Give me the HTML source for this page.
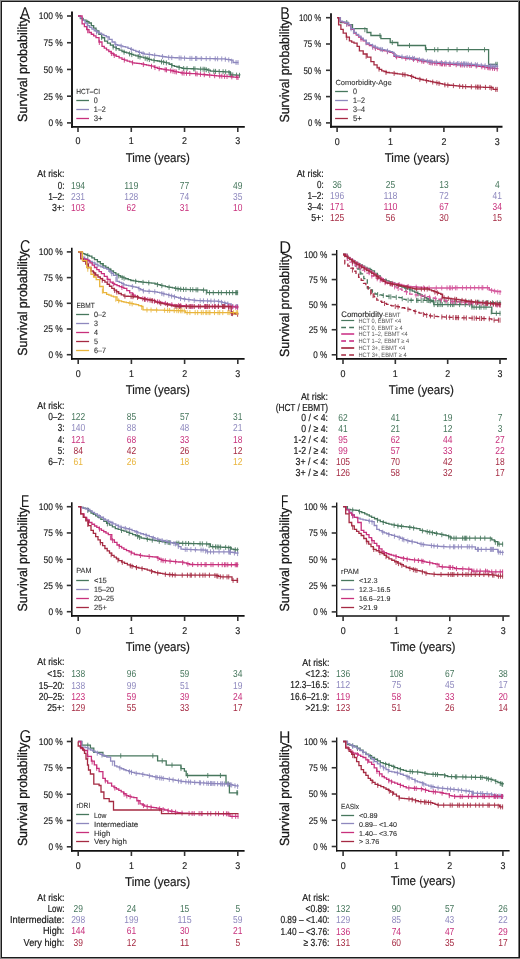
<!DOCTYPE html>
<html><head><meta charset="utf-8"><style>
html,body{margin:0;padding:0;background:#fff;}
body{width:520px;height:959px;overflow:hidden;position:relative;}
svg{position:absolute;left:0;top:0;will-change:transform;}
svg text{font-family:"Liberation Sans", sans-serif;text-rendering:geometricPrecision;}
.b{position:absolute;}
</style></head><body>
<svg width="520" height="959" viewBox="0 0 520 959">
<rect x="0" y="0" width="520" height="959" fill="#fff"/>
<line x1="72.00" y1="11.50" x2="72.00" y2="127.70" stroke="#111" stroke-width="1.90"/>
<line x1="71.05" y1="126.80" x2="244.80" y2="126.80" stroke="#111" stroke-width="1.80"/>
<line x1="67.00" y1="16.00" x2="72.00" y2="16.00" stroke="#333" stroke-width="1.60"/>
<text x="62.80" y="19.40" font-size="9.60" text-anchor="end" fill="#222" stroke="#222" stroke-width="0.15" textLength="24.09" lengthAdjust="spacingAndGlyphs">100 %</text>
<line x1="67.00" y1="42.73" x2="72.00" y2="42.73" stroke="#333" stroke-width="1.60"/>
<text x="62.80" y="46.12" font-size="9.60" text-anchor="end" fill="#222" stroke="#222" stroke-width="0.15" textLength="19.24" lengthAdjust="spacingAndGlyphs">75 %</text>
<line x1="67.00" y1="69.45" x2="72.00" y2="69.45" stroke="#333" stroke-width="1.60"/>
<text x="62.80" y="72.85" font-size="9.60" text-anchor="end" fill="#222" stroke="#222" stroke-width="0.15" textLength="19.24" lengthAdjust="spacingAndGlyphs">50 %</text>
<line x1="67.00" y1="96.18" x2="72.00" y2="96.18" stroke="#333" stroke-width="1.60"/>
<text x="62.80" y="99.58" font-size="9.60" text-anchor="end" fill="#222" stroke="#222" stroke-width="0.15" textLength="19.24" lengthAdjust="spacingAndGlyphs">25 %</text>
<line x1="67.00" y1="122.90" x2="72.00" y2="122.90" stroke="#333" stroke-width="1.60"/>
<text x="62.80" y="126.30" font-size="9.60" text-anchor="end" fill="#222" stroke="#222" stroke-width="0.15" textLength="14.39" lengthAdjust="spacingAndGlyphs">0 %</text>
<line x1="78.00" y1="126.80" x2="78.00" y2="132.00" stroke="#333" stroke-width="1.60"/>
<text x="78.00" y="144.30" font-size="9.80" text-anchor="middle" fill="#222" stroke="#222" stroke-width="0.15" textLength="4.95" lengthAdjust="spacingAndGlyphs">0</text>
<line x1="131.27" y1="126.80" x2="131.27" y2="132.00" stroke="#333" stroke-width="1.60"/>
<text x="131.27" y="144.30" font-size="9.80" text-anchor="middle" fill="#222" stroke="#222" stroke-width="0.15" textLength="4.95" lengthAdjust="spacingAndGlyphs">1</text>
<line x1="184.53" y1="126.80" x2="184.53" y2="132.00" stroke="#333" stroke-width="1.60"/>
<text x="184.53" y="144.30" font-size="9.80" text-anchor="middle" fill="#222" stroke="#222" stroke-width="0.15" textLength="4.95" lengthAdjust="spacingAndGlyphs">2</text>
<line x1="237.80" y1="126.80" x2="237.80" y2="132.00" stroke="#333" stroke-width="1.60"/>
<text x="237.80" y="144.30" font-size="9.80" text-anchor="middle" fill="#222" stroke="#222" stroke-width="0.15" textLength="4.95" lengthAdjust="spacingAndGlyphs">3</text>
<text x="125.70" y="162.30" font-size="12.80" text-anchor="start" fill="#1a1a1a" stroke="#1a1a1a" stroke-width="0.20" textLength="64.20" lengthAdjust="spacingAndGlyphs">Time (years)</text>
<text transform="translate(26.90,121.90) rotate(-90)" x="0" y="0" font-size="13.2" fill="#1a1a1a" stroke="#1a1a1a" stroke-width="0.3" textLength="104.90" lengthAdjust="spacingAndGlyphs">Survival probability</text>
<text transform="translate(19.97,18.60) scale(0.875,1)" x="0" y="0" font-size="17.10" fill="#1a1a1a">A</text>
<text x="76.30" y="93.80" font-size="7.40" text-anchor="start" fill="#333" stroke="#333" stroke-width="0.10" textLength="23.77" lengthAdjust="spacingAndGlyphs">HCT–CI</text>
<line x1="76.30" y1="100.50" x2="89.00" y2="100.50" stroke="#47775d" stroke-width="1.30"/>
<text x="93.70" y="103.30" font-size="8.00" text-anchor="start" fill="#333" stroke="#333" stroke-width="0.12" textLength="3.98" lengthAdjust="spacingAndGlyphs">0</text>
<line x1="76.30" y1="109.50" x2="89.00" y2="109.50" stroke="#8e88be" stroke-width="1.30"/>
<text x="93.70" y="112.20" font-size="8.00" text-anchor="start" fill="#333" stroke="#333" stroke-width="0.12" textLength="12.05" lengthAdjust="spacingAndGlyphs">1–2</text>
<line x1="76.30" y1="118.50" x2="89.00" y2="118.50" stroke="#c8307c" stroke-width="1.30"/>
<text x="93.70" y="121.00" font-size="8.00" text-anchor="start" fill="#333" stroke="#333" stroke-width="0.12" textLength="8.86" lengthAdjust="spacingAndGlyphs">3+</text>
<path d="M78.00,16.00 H80.40 V18.70 H83.27 V20.13 H86.13 V21.57 H89.00 V23.00 H91.33 V25.60 H93.67 V28.20 H96.00 V30.80 H98.87 V34.27 H101.73 V37.73 H104.60 V41.20 H107.50 V43.20 H110.40 V45.20 H113.30 V47.20 H116.20 V48.63 H119.10 V50.07 H122.00 V51.50 H124.30 V52.23 H126.60 V52.97 H128.90 V53.70 H131.20 V54.43 H133.50 V55.17 H135.80 V55.90 H138.38 V56.55 H140.95 V57.20 H143.53 V57.85 H146.10 V58.50 H148.70 V59.35 H151.30 V60.20 H154.30 V60.60 H157.30 V61.00 H159.58 V61.48 H161.85 V61.95 H164.12 V62.42 H166.40 V62.90 H169.15 V64.25 H171.90 V65.60 H174.43 V66.30 H176.95 V67.00 H179.47 V67.70 H182.00 V68.40 H184.28 V68.49 H186.56 V68.58 H188.84 V68.67 H191.12 V68.76 H193.40 V68.85 H195.68 V68.94 H197.96 V69.03 H200.24 V69.12 H202.52 V69.21 H204.80 V69.30 H207.55 V70.20 H210.30 V71.10 H212.59 V71.21 H214.88 V71.32 H217.16 V71.44 H219.45 V71.55 H221.74 V71.66 H224.03 V71.78 H226.31 V71.89 H228.60 V72.00 H230.40 V74.80 H232.80 V74.92 H235.20 V75.05 H237.60 V75.17 H240.00 V75.30" fill="none" stroke="#47775d" stroke-width="1.30"/>
<path d="M87.72,19.86V24.86M96.72,29.17V34.17M101.66,35.15V40.15M113.15,44.60V49.60M116.06,46.06V51.06M124.06,49.66V54.66M129.56,51.41V56.41M131.80,52.12V57.12M138.15,53.99V58.99M140.01,54.46V59.46M145.21,55.78V60.78M147.21,56.36V61.36M149.33,57.06V62.06M154.02,58.06V63.06M161.51,59.38V64.38M163.62,59.82V64.82M166.37,60.39V65.39M171.79,63.05V68.05M179.05,65.08V70.08M183.66,65.97V70.97M187.06,66.10V71.10M193.73,66.36V71.36M194.96,66.41V71.41M200.65,66.64V71.64M203.11,66.73V71.73M204.79,66.80V71.80M206.31,67.29V72.29M208.79,68.10V73.10M213.79,68.77V73.77M215.54,68.86V73.86M219.21,69.04V74.04M223.08,69.23V74.23M225.63,69.35V74.35M228.94,70.03V75.03M230.02,71.71V76.71M231.08,72.34V77.34M232.78,72.42V77.42M236.56,72.62V77.62M239.50,72.80V77.80" fill="none" stroke="#47775d" stroke-width="0.95" opacity="0.9"/>
<path d="M78.00,16.00 H80.40 V17.80 H82.70 V20.40 H85.00 V23.00 H87.30 V25.60 H89.60 V27.33 H91.90 V29.07 H94.20 V30.80 H96.62 V32.00 H99.04 V33.20 H101.46 V34.40 H103.88 V35.60 H106.30 V36.80 H109.20 V39.40 H112.10 V42.00 H115.00 V44.60 H117.60 V45.25 H120.20 V45.90 H122.80 V46.55 H125.40 V47.20 H128.00 V48.28 H130.60 V49.35 H133.20 V50.42 H135.80 V51.50 H138.67 V52.37 H141.53 V53.23 H144.40 V54.10 H147.20 V54.40 H150.00 V54.70 H152.29 V55.04 H154.57 V55.38 H156.86 V55.71 H159.15 V56.05 H161.44 V56.39 H163.73 V56.73 H166.01 V57.06 H168.30 V57.40 H170.58 V57.51 H172.85 V57.62 H175.12 V57.74 H177.40 V57.85 H179.68 V57.96 H181.95 V58.07 H184.22 V58.19 H186.50 V58.30 H188.78 V58.34 H191.06 V58.38 H193.34 V58.41 H195.62 V58.45 H197.91 V58.49 H200.19 V58.52 H202.47 V58.56 H204.75 V58.60 H207.03 V58.64 H209.31 V58.67 H211.59 V58.71 H213.88 V58.75 H216.16 V58.79 H218.44 V58.82 H220.72 V58.86 H223.00 V58.90 H225.47 V59.30 H227.93 V59.70 H230.40 V60.10 H233.10 V62.50 H235.80 V62.50 H238.50 V62.50" fill="none" stroke="#8e88be" stroke-width="1.30"/>
<path d="M87.63,23.35V28.35M96.46,29.42V34.42M107.98,35.81V40.81M115.87,42.32V47.32M121.21,43.65V48.65M131.37,47.17V52.17M139.50,50.12V55.12M143.08,51.20V56.20M149.25,52.12V57.12M154.69,52.89V57.89M162.45,54.04V59.04M168.71,54.92V59.92M171.77,55.07V60.07M179.19,55.44V60.44M180.98,55.53V60.53M184.54,55.70V60.70M190.00,55.86V60.86M191.85,55.89V60.89M195.56,55.95V60.95M196.73,55.97V60.97M201.28,56.04V61.04M206.21,56.12V61.12M210.02,56.19V61.19M215.24,56.27V61.27M217.60,56.31V61.31M221.74,56.38V61.38M225.32,56.78V61.78M228.77,57.34V62.34M231.60,58.66V63.66M236.07,60.00V65.00M238.00,60.00V65.00" fill="none" stroke="#8e88be" stroke-width="0.95" opacity="0.9"/>
<path d="M78.00,16.00 H82.10 V23.80 H84.40 V26.70 H86.70 V29.60 H89.00 V32.50 H91.33 V34.23 H93.67 V35.97 H96.00 V37.70 H99.00 V42.00 H102.00 V46.30 H104.26 V48.04 H106.52 V49.78 H108.78 V51.52 H111.04 V53.26 H113.30 V55.00 H116.20 V56.43 H119.10 V57.87 H122.00 V59.30 H124.58 V60.17 H127.15 V61.05 H129.73 V61.92 H132.30 V62.80 H134.60 V63.10 H136.90 V63.40 H139.20 V63.70 H141.62 V64.20 H144.04 V64.70 H146.46 V65.20 H148.88 V65.70 H151.30 V66.20 H154.30 V67.30 H157.30 V68.40 H159.50 V68.76 H161.70 V69.12 H163.90 V69.48 H166.10 V69.84 H168.30 V70.20 H170.84 V70.76 H173.38 V71.32 H175.92 V71.88 H178.46 V72.44 H181.00 V73.00 H183.45 V73.13 H185.90 V73.27 H188.35 V73.40 H190.80 V73.53 H193.25 V73.67 H195.70 V73.80 H197.99 V74.04 H200.27 V74.28 H202.56 V74.51 H204.85 V74.75 H207.14 V74.99 H209.43 V75.22 H211.71 V75.46 H214.00 V75.70 H216.43 V75.85 H218.87 V76.00 H221.30 V76.15 H223.73 V76.30 H226.17 V76.45 H228.60 V76.60 H231.07 V76.82 H233.55 V77.05 H236.03 V77.28 H238.50 V77.50" fill="none" stroke="#c8307c" stroke-width="1.30"/>
<path d="M87.63,28.27V33.27M99.33,39.98V44.98M111.42,51.06V56.06M114.25,52.97V57.97M124.31,57.58V62.58M132.60,60.34V65.34M143.32,62.05V67.05M151.51,63.78V68.78M155.01,65.06V70.06M159.15,66.20V71.20M165.15,67.18V72.18M166.50,67.40V72.40M170.76,68.24V73.24M172.99,68.73V73.73M174.86,69.15V74.15M176.33,69.47V74.47M182.19,70.56V75.56M184.01,70.66V75.66M186.50,70.80V75.80M189.77,70.98V75.98M195.69,71.30V76.30M197.08,71.44V76.44M200.44,71.79V76.79M204.27,72.19V77.19M209.71,72.76V77.76M214.67,73.24V78.24M219.70,73.55V78.55M221.83,73.68V78.68M224.58,73.85V78.85M227.03,74.00V79.00M231.81,74.39V79.39M236.80,74.85V79.85M238.00,75.00V80.00" fill="none" stroke="#c8307c" stroke-width="0.95" opacity="0.9"/>
<text x="64.40" y="176.90" font-size="10.20" text-anchor="end" fill="#1a1a1a" stroke="#1a1a1a" stroke-width="0.20" textLength="27.04" lengthAdjust="spacingAndGlyphs">At risk:</text>
<text x="64.40" y="188.50" font-size="10.20" text-anchor="end" fill="#1a1a1a" stroke="#1a1a1a" stroke-width="0.20" textLength="6.71" lengthAdjust="spacingAndGlyphs">0:</text>
<text x="78.00" y="188.50" font-size="10.20" text-anchor="middle" fill="#47775d" textLength="14.11" lengthAdjust="spacingAndGlyphs">194</text>
<text x="131.27" y="188.50" font-size="10.20" text-anchor="middle" fill="#47775d" textLength="14.11" lengthAdjust="spacingAndGlyphs">119</text>
<text x="184.53" y="188.50" font-size="10.20" text-anchor="middle" fill="#47775d" textLength="9.41" lengthAdjust="spacingAndGlyphs">77</text>
<text x="237.80" y="188.50" font-size="10.20" text-anchor="middle" fill="#47775d" textLength="9.41" lengthAdjust="spacingAndGlyphs">49</text>
<text x="64.40" y="199.65" font-size="10.20" text-anchor="end" fill="#1a1a1a" stroke="#1a1a1a" stroke-width="0.20" textLength="16.27" lengthAdjust="spacingAndGlyphs">1–2:</text>
<text x="78.00" y="199.65" font-size="10.20" text-anchor="middle" fill="#8e88be" textLength="14.11" lengthAdjust="spacingAndGlyphs">231</text>
<text x="131.27" y="199.65" font-size="10.20" text-anchor="middle" fill="#8e88be" textLength="14.11" lengthAdjust="spacingAndGlyphs">128</text>
<text x="184.53" y="199.65" font-size="10.20" text-anchor="middle" fill="#8e88be" textLength="9.41" lengthAdjust="spacingAndGlyphs">74</text>
<text x="237.80" y="199.65" font-size="10.20" text-anchor="middle" fill="#8e88be" textLength="9.41" lengthAdjust="spacingAndGlyphs">35</text>
<text x="64.40" y="210.80" font-size="10.20" text-anchor="end" fill="#1a1a1a" stroke="#1a1a1a" stroke-width="0.20" textLength="12.49" lengthAdjust="spacingAndGlyphs">3+:</text>
<text x="78.00" y="210.80" font-size="10.20" text-anchor="middle" fill="#c8307c" textLength="14.11" lengthAdjust="spacingAndGlyphs">103</text>
<text x="131.27" y="210.80" font-size="10.20" text-anchor="middle" fill="#c8307c" textLength="9.41" lengthAdjust="spacingAndGlyphs">62</text>
<text x="184.53" y="210.80" font-size="10.20" text-anchor="middle" fill="#c8307c" textLength="9.41" lengthAdjust="spacingAndGlyphs">31</text>
<text x="237.80" y="210.80" font-size="10.20" text-anchor="middle" fill="#c8307c" textLength="9.41" lengthAdjust="spacingAndGlyphs">10</text>
<line x1="331.00" y1="13.30" x2="331.00" y2="127.70" stroke="#111" stroke-width="1.80"/>
<line x1="330.10" y1="126.70" x2="502.50" y2="126.70" stroke="#111" stroke-width="2.00"/>
<line x1="326.00" y1="17.70" x2="331.00" y2="17.70" stroke="#333" stroke-width="1.60"/>
<text x="321.30" y="21.10" font-size="9.60" text-anchor="end" fill="#222" stroke="#222" stroke-width="0.15" textLength="22.40" lengthAdjust="spacingAndGlyphs">100 %</text>
<line x1="326.00" y1="44.00" x2="331.00" y2="44.00" stroke="#333" stroke-width="1.60"/>
<text x="321.30" y="47.40" font-size="9.60" text-anchor="end" fill="#222" stroke="#222" stroke-width="0.15" textLength="17.89" lengthAdjust="spacingAndGlyphs">75 %</text>
<line x1="326.00" y1="70.30" x2="331.00" y2="70.30" stroke="#333" stroke-width="1.60"/>
<text x="321.30" y="73.70" font-size="9.60" text-anchor="end" fill="#222" stroke="#222" stroke-width="0.15" textLength="17.89" lengthAdjust="spacingAndGlyphs">50 %</text>
<line x1="326.00" y1="96.60" x2="331.00" y2="96.60" stroke="#333" stroke-width="1.60"/>
<text x="321.30" y="100.00" font-size="9.60" text-anchor="end" fill="#222" stroke="#222" stroke-width="0.15" textLength="17.89" lengthAdjust="spacingAndGlyphs">25 %</text>
<line x1="326.00" y1="122.90" x2="331.00" y2="122.90" stroke="#333" stroke-width="1.60"/>
<text x="321.30" y="126.30" font-size="9.60" text-anchor="end" fill="#222" stroke="#222" stroke-width="0.15" textLength="13.38" lengthAdjust="spacingAndGlyphs">0 %</text>
<line x1="337.10" y1="126.70" x2="337.10" y2="131.90" stroke="#333" stroke-width="1.60"/>
<text x="337.10" y="144.50" font-size="9.80" text-anchor="middle" fill="#222" stroke="#222" stroke-width="0.15" textLength="4.95" lengthAdjust="spacingAndGlyphs">0</text>
<line x1="390.50" y1="126.70" x2="390.50" y2="131.90" stroke="#333" stroke-width="1.60"/>
<text x="390.50" y="144.50" font-size="9.80" text-anchor="middle" fill="#222" stroke="#222" stroke-width="0.15" textLength="4.95" lengthAdjust="spacingAndGlyphs">1</text>
<line x1="443.90" y1="126.70" x2="443.90" y2="131.90" stroke="#333" stroke-width="1.60"/>
<text x="443.90" y="144.50" font-size="9.80" text-anchor="middle" fill="#222" stroke="#222" stroke-width="0.15" textLength="4.95" lengthAdjust="spacingAndGlyphs">2</text>
<line x1="497.30" y1="126.70" x2="497.30" y2="131.90" stroke="#333" stroke-width="1.60"/>
<text x="497.30" y="144.50" font-size="9.80" text-anchor="middle" fill="#222" stroke="#222" stroke-width="0.15" textLength="4.95" lengthAdjust="spacingAndGlyphs">3</text>
<text x="384.70" y="162.30" font-size="12.80" text-anchor="start" fill="#1a1a1a" stroke="#1a1a1a" stroke-width="0.20" textLength="64.80" lengthAdjust="spacingAndGlyphs">Time (years)</text>
<text transform="translate(288.80,122.50) rotate(-90)" x="0" y="0" font-size="13.2" fill="#1a1a1a" stroke="#1a1a1a" stroke-width="0.3" textLength="103.20" lengthAdjust="spacingAndGlyphs">Survival probability</text>
<text transform="translate(280.23,18.60) scale(0.835,1)" x="0" y="0" font-size="17.10" fill="#1a1a1a">B</text>
<text x="335.40" y="85.10" font-size="7.40" text-anchor="start" fill="#333" stroke="#333" stroke-width="0.10" textLength="56.32" lengthAdjust="spacingAndGlyphs">Comorbidity-Age</text>
<line x1="335.10" y1="91.50" x2="347.90" y2="91.50" stroke="#47775d" stroke-width="1.30"/>
<text x="352.90" y="94.40" font-size="8.00" text-anchor="start" fill="#333" stroke="#333" stroke-width="0.12" textLength="3.98" lengthAdjust="spacingAndGlyphs">0</text>
<line x1="335.10" y1="100.50" x2="347.90" y2="100.50" stroke="#8e88be" stroke-width="1.30"/>
<text x="352.90" y="103.10" font-size="8.00" text-anchor="start" fill="#333" stroke="#333" stroke-width="0.12" textLength="12.05" lengthAdjust="spacingAndGlyphs">1–2</text>
<line x1="335.10" y1="109.50" x2="347.90" y2="109.50" stroke="#c8307c" stroke-width="1.30"/>
<text x="352.90" y="112.10" font-size="8.00" text-anchor="start" fill="#333" stroke="#333" stroke-width="0.12" textLength="12.05" lengthAdjust="spacingAndGlyphs">3–4</text>
<line x1="335.10" y1="118.50" x2="347.90" y2="118.50" stroke="#a52a42" stroke-width="1.30"/>
<text x="352.90" y="120.90" font-size="8.00" text-anchor="start" fill="#333" stroke="#333" stroke-width="0.12" textLength="8.86" lengthAdjust="spacingAndGlyphs">5+</text>
<path d="M337.10,17.70 H340.40 V17.80 H340.40 V22.50 H343.00 V22.50 H345.60 V22.50 H348.20 V22.50 H348.20 V24.70 H352.50 V28.60 H354.80 V28.60 H357.10 V28.60 H359.40 V28.60 H361.70 V28.60 H364.00 V28.60 H367.00 V32.50 H370.90 V35.50 H373.30 V35.50 H375.70 V35.50 H378.10 V35.50 H380.50 V35.50 H380.90 V38.60 H383.73 V38.60 H386.57 V38.60 H389.40 V38.60 H390.20 V42.50 H392.50 V42.50 H394.80 V42.50 H397.10 V42.50 H397.80 V45.50 H400.11 V45.50 H402.42 V45.50 H404.73 V45.50 H407.03 V45.50 H409.34 V45.50 H411.65 V45.50 H413.96 V45.50 H416.27 V45.50 H418.57 V45.50 H420.88 V45.50 H423.19 V45.50 H425.50 V45.50 H425.50 V49.70 H427.75 V49.70 H430.01 V49.70 H432.26 V49.70 H434.51 V49.70 H436.77 V49.70 H439.02 V49.70 H441.27 V49.70 H443.53 V49.70 H445.78 V49.70 H448.04 V49.70 H450.29 V49.70 H452.54 V49.70 H454.80 V49.70 H457.05 V49.70 H459.30 V49.70 H461.56 V49.70 H463.81 V49.70 H466.06 V49.70 H468.32 V49.70 H470.57 V49.70 H472.82 V49.70 H475.08 V49.70 H477.33 V49.70 H479.59 V49.70 H481.84 V49.70 H484.09 V49.70 H486.35 V49.70 H488.60 V49.70 H488.60 V64.30 H490.88 V64.30 H493.15 V64.30 H495.43 V64.30 H497.70 V64.30" fill="none" stroke="#47775d" stroke-width="1.30"/>
<path d="M346.74,20.00V25.00M364.86,27.22V32.22M379.99,33.00V38.00M392.29,40.00V45.00M409.50,43.00V48.00M426.29,47.20V52.20M434.64,47.20V52.20M437.86,47.20V52.20M448.23,47.20V52.20M457.06,47.20V52.20M468.42,47.20V52.20M484.52,47.20V52.20M495.80,61.80V66.80M497.20,61.80V66.80" fill="none" stroke="#47775d" stroke-width="0.95" opacity="0.9"/>
<path d="M337.10,17.70 H340.20 V21.70 H342.50 V22.45 H344.80 V23.20 H348.60 V25.50 H350.90 V29.40 H354.00 V33.20 H356.30 V35.15 H358.60 V37.10 H360.90 V39.00 H363.20 V40.90 H366.30 V44.00 H369.40 V45.55 H372.50 V47.10 H375.07 V48.13 H377.63 V49.17 H380.20 V50.20 H382.50 V50.55 H384.80 V50.90 H387.37 V51.67 H389.93 V52.43 H392.50 V53.20 H394.00 V56.30 H396.57 V56.80 H399.13 V57.30 H401.70 V57.80 H404.16 V58.12 H406.62 V58.44 H409.08 V58.76 H411.54 V59.08 H414.00 V59.40 H416.33 V59.93 H418.67 V60.47 H421.00 V61.00 H423.73 V61.48 H426.45 V61.95 H429.17 V62.42 H431.90 V62.90 H434.17 V63.12 H436.45 V63.35 H438.73 V63.57 H441.00 V63.80 H443.45 V63.95 H445.90 V64.10 H448.35 V64.25 H450.80 V64.40 H453.25 V64.55 H455.70 V64.70 H457.99 V64.81 H460.27 V64.92 H462.56 V65.04 H464.85 V65.15 H467.14 V65.26 H469.43 V65.38 H471.71 V65.49 H474.00 V65.60 H476.54 V65.98 H479.08 V66.36 H481.62 V66.74 H484.16 V67.12 H486.70 V67.50 H488.90 V67.78 H491.10 V68.06 H493.30 V68.34 H495.50 V68.62 H497.70 V68.90" fill="none" stroke="#c8307c" stroke-width="1.30"/>
<path d="M346.74,21.87V26.87M361.02,36.60V41.60M372.77,44.71V49.71M375.43,45.78V50.78M387.42,49.18V54.18M396.61,54.31V59.31M405.76,55.83V60.83M413.50,56.83V61.83M417.71,57.75V62.75M421.82,58.64V63.64M423.75,58.98V63.98M429.26,59.94V64.94M430.81,60.21V65.21M432.37,60.45V65.45M434.82,60.69V65.69M436.93,60.90V65.90M440.10,61.21V66.21M441.47,61.33V66.33M442.52,61.39V66.39M444.46,61.51V66.51M446.07,61.61V66.61M449.18,61.80V66.80M450.32,61.87V66.87M456.19,62.22V67.22M460.44,62.43V67.43M462.15,62.52V67.52M464.37,62.63V67.63M467.05,62.76V67.76M469.77,62.89V67.89M471.25,62.96V67.96M476.28,63.44V68.44M481.85,64.27V69.27M484.82,64.72V69.72M487.82,65.14V70.14M489.00,65.29V70.29M490.24,65.45V70.45M492.53,65.74V70.74M494.45,65.99V70.99M497.20,66.40V71.40" fill="none" stroke="#c8307c" stroke-width="0.95" opacity="0.9"/>
<path d="M337.10,17.70 H340.20 V21.20 H342.50 V21.90 H344.80 V22.60 H348.60 V24.80 H350.90 V28.60 H354.00 V32.40 H356.30 V34.30 H358.60 V36.20 H360.90 V38.20 H363.20 V40.20 H366.30 V43.00 H369.40 V44.60 H372.50 V46.20 H375.07 V47.20 H377.63 V48.20 H380.20 V49.20 H382.50 V49.70 H384.80 V50.20 H387.37 V50.93 H389.93 V51.67 H392.50 V52.40 H394.00 V55.30 H396.57 V55.80 H399.13 V56.30 H401.70 V56.80 H404.16 V57.12 H406.62 V57.44 H409.08 V57.76 H411.54 V58.08 H414.00 V58.40 H416.33 V58.93 H418.67 V59.47 H421.00 V60.00 H423.73 V60.50 H426.45 V61.00 H429.17 V61.50 H431.90 V62.00 H434.28 V62.15 H436.66 V62.30 H439.04 V62.45 H441.42 V62.60 H443.80 V62.75 H446.18 V62.90 H448.56 V63.05 H450.94 V63.20 H453.32 V63.35 H455.70 V63.50 H457.99 V63.62 H460.27 V63.75 H462.56 V63.88 H464.85 V64.00 H467.14 V64.12 H469.43 V64.25 H471.71 V64.38 H474.00 V64.50 H476.54 V64.80 H479.08 V65.10 H481.62 V65.40 H484.16 V65.70 H486.70 V66.00 H488.90 V66.10 H491.10 V66.20 H493.30 V66.30 H495.50 V66.40 H497.70 V66.50" fill="none" stroke="#8e88be" stroke-width="1.30"/>
<path d="M346.74,21.22V26.22M351.08,26.32V31.32M353.42,29.19V34.19M366.10,40.32V45.32M372.50,43.70V48.70M375.17,44.74V49.74M380.92,46.86V51.86M382.43,47.18V52.18M387.56,48.49V53.49M395.48,53.09V58.09M402.02,54.34V59.34M407.15,55.01V60.01M409.60,55.33V60.33M412.58,55.72V60.72M414.41,55.99V60.99M419.39,57.13V62.13M422.95,57.86V62.86M427.62,58.71V63.71M430.00,59.15V64.15M431.84,59.49V64.49M436.34,59.78V64.78M441.45,60.10V65.10M445.82,60.38V65.38M449.86,60.63V65.63M453.85,60.88V65.88M457.42,61.09V66.09M458.96,61.18V66.18M461.58,61.32V66.32M463.56,61.43V66.43M464.31,61.47V66.47M465.06,61.51V66.51M466.71,61.60V66.60M468.28,61.69V66.69M471.38,61.86V66.86M475.35,62.16V67.16M477.48,62.41V67.41M481.25,62.86V67.86M485.11,63.31V68.31M488.77,63.59V68.59M490.49,63.67V68.67M491.74,63.73V68.73M493.01,63.79V68.79M494.17,63.84V68.84M495.34,63.89V68.89M497.20,64.00V69.00" fill="none" stroke="#8e88be" stroke-width="0.95" opacity="0.9"/>
<path d="M337.10,17.70 H338.60 V24.80 H340.90 V29.40 H343.20 V33.20 H346.30 V37.10 H349.40 V40.90 H351.70 V42.05 H354.00 V43.20 H357.10 V46.30 H359.40 V50.90 H363.20 V54.00 H367.10 V57.10 H370.90 V61.70 H374.00 V64.80 H377.10 V67.80 H379.40 V69.35 H381.70 V70.90 H384.00 V71.70 H386.30 V72.50 H389.40 V72.85 H392.50 V73.20 H394.96 V73.52 H397.42 V73.84 H399.88 V74.16 H402.34 V74.48 H404.80 V74.80 H407.85 V75.55 H410.90 V76.30 H413.20 V77.35 H415.50 V78.40 H418.06 V78.96 H420.62 V79.52 H423.18 V80.08 H425.74 V80.64 H428.30 V81.20 H430.57 V81.65 H432.85 V82.10 H435.12 V82.55 H437.40 V83.00 H439.83 V83.60 H442.27 V84.20 H444.70 V84.80 H446.99 V85.02 H449.27 V85.25 H451.56 V85.47 H453.85 V85.70 H456.14 V85.92 H458.43 V86.15 H460.71 V86.38 H463.00 V86.60 H465.28 V86.67 H467.57 V86.75 H469.85 V86.82 H472.13 V86.90 H474.42 V86.97 H476.70 V87.05 H478.98 V87.12 H481.27 V87.20 H483.55 V87.28 H485.83 V87.35 H488.12 V87.42 H490.40 V87.50 H493.10 V89.40 H495.40 V89.40 H497.70 V89.40" fill="none" stroke="#a52a42" stroke-width="1.30"/>
<path d="M346.74,35.13V40.13M366.11,53.81V58.81M379.04,66.61V71.61M386.01,69.90V74.90M394.12,70.91V75.91M402.83,72.04V77.04M404.97,72.34V77.34M411.67,74.15V79.15M419.84,76.85V81.85M426.57,78.32V83.32M432.72,79.57V84.57M436.86,80.39V85.39M439.04,80.90V85.90M444.88,82.32V87.32M447.83,82.61V87.61M453.38,83.15V88.15M459.67,83.77V88.77M462.69,84.07V89.07M465.67,84.19V89.19M471.37,84.37V89.37M475.79,84.52V89.52M477.44,84.57V89.57M478.88,84.62V89.62M480.42,84.67V89.67M485.45,84.84V89.84M489.91,84.98V89.98M491.34,85.66V90.66M495.74,86.90V91.90M497.20,86.90V91.90" fill="none" stroke="#a52a42" stroke-width="0.95" opacity="0.9"/>
<text x="323.70" y="177.30" font-size="10.20" text-anchor="end" fill="#1a1a1a" stroke="#1a1a1a" stroke-width="0.20" textLength="27.04" lengthAdjust="spacingAndGlyphs">At risk:</text>
<text x="323.70" y="188.30" font-size="10.20" text-anchor="end" fill="#1a1a1a" stroke="#1a1a1a" stroke-width="0.20" textLength="6.71" lengthAdjust="spacingAndGlyphs">0:</text>
<text x="337.10" y="188.30" font-size="10.20" text-anchor="middle" fill="#47775d" textLength="9.41" lengthAdjust="spacingAndGlyphs">36</text>
<text x="390.50" y="188.30" font-size="10.20" text-anchor="middle" fill="#47775d" textLength="9.41" lengthAdjust="spacingAndGlyphs">25</text>
<text x="443.90" y="188.30" font-size="10.20" text-anchor="middle" fill="#47775d" textLength="9.41" lengthAdjust="spacingAndGlyphs">13</text>
<text x="497.30" y="188.30" font-size="10.20" text-anchor="middle" fill="#47775d" textLength="4.70" lengthAdjust="spacingAndGlyphs">4</text>
<text x="323.70" y="199.35" font-size="10.20" text-anchor="end" fill="#1a1a1a" stroke="#1a1a1a" stroke-width="0.20" textLength="16.27" lengthAdjust="spacingAndGlyphs">1–2:</text>
<text x="337.10" y="199.35" font-size="10.20" text-anchor="middle" fill="#8e88be" textLength="14.11" lengthAdjust="spacingAndGlyphs">196</text>
<text x="390.50" y="199.35" font-size="10.20" text-anchor="middle" fill="#8e88be" textLength="14.11" lengthAdjust="spacingAndGlyphs">118</text>
<text x="443.90" y="199.35" font-size="10.20" text-anchor="middle" fill="#8e88be" textLength="9.41" lengthAdjust="spacingAndGlyphs">72</text>
<text x="497.30" y="199.35" font-size="10.20" text-anchor="middle" fill="#8e88be" textLength="9.41" lengthAdjust="spacingAndGlyphs">41</text>
<text x="323.70" y="210.40" font-size="10.20" text-anchor="end" fill="#1a1a1a" stroke="#1a1a1a" stroke-width="0.20" textLength="16.27" lengthAdjust="spacingAndGlyphs">3–4:</text>
<text x="337.10" y="210.40" font-size="10.20" text-anchor="middle" fill="#c8307c" textLength="14.11" lengthAdjust="spacingAndGlyphs">171</text>
<text x="390.50" y="210.40" font-size="10.20" text-anchor="middle" fill="#c8307c" textLength="14.11" lengthAdjust="spacingAndGlyphs">110</text>
<text x="443.90" y="210.40" font-size="10.20" text-anchor="middle" fill="#c8307c" textLength="9.41" lengthAdjust="spacingAndGlyphs">67</text>
<text x="497.30" y="210.40" font-size="10.20" text-anchor="middle" fill="#c8307c" textLength="9.41" lengthAdjust="spacingAndGlyphs">34</text>
<text x="323.70" y="221.45" font-size="10.20" text-anchor="end" fill="#1a1a1a" stroke="#1a1a1a" stroke-width="0.20" textLength="12.49" lengthAdjust="spacingAndGlyphs">5+:</text>
<text x="337.10" y="221.45" font-size="10.20" text-anchor="middle" fill="#a52a42" textLength="14.11" lengthAdjust="spacingAndGlyphs">125</text>
<text x="390.50" y="221.45" font-size="10.20" text-anchor="middle" fill="#a52a42" textLength="9.41" lengthAdjust="spacingAndGlyphs">56</text>
<text x="443.90" y="221.45" font-size="10.20" text-anchor="middle" fill="#a52a42" textLength="9.41" lengthAdjust="spacingAndGlyphs">30</text>
<text x="497.30" y="221.45" font-size="10.20" text-anchor="middle" fill="#a52a42" textLength="9.41" lengthAdjust="spacingAndGlyphs">15</text>
<line x1="71.80" y1="247.80" x2="71.80" y2="359.65" stroke="#111" stroke-width="1.60"/>
<line x1="71.00" y1="358.80" x2="244.60" y2="358.80" stroke="#111" stroke-width="1.70"/>
<line x1="66.80" y1="251.90" x2="71.80" y2="251.90" stroke="#333" stroke-width="1.60"/>
<text x="62.80" y="255.30" font-size="9.60" text-anchor="end" fill="#222" stroke="#222" stroke-width="0.15" textLength="24.09" lengthAdjust="spacingAndGlyphs">100 %</text>
<line x1="66.80" y1="277.60" x2="71.80" y2="277.60" stroke="#333" stroke-width="1.60"/>
<text x="62.80" y="281.00" font-size="9.60" text-anchor="end" fill="#222" stroke="#222" stroke-width="0.15" textLength="19.24" lengthAdjust="spacingAndGlyphs">75 %</text>
<line x1="66.80" y1="303.30" x2="71.80" y2="303.30" stroke="#333" stroke-width="1.60"/>
<text x="62.80" y="306.70" font-size="9.60" text-anchor="end" fill="#222" stroke="#222" stroke-width="0.15" textLength="19.24" lengthAdjust="spacingAndGlyphs">50 %</text>
<line x1="66.80" y1="329.00" x2="71.80" y2="329.00" stroke="#333" stroke-width="1.60"/>
<text x="62.80" y="332.40" font-size="9.60" text-anchor="end" fill="#222" stroke="#222" stroke-width="0.15" textLength="19.24" lengthAdjust="spacingAndGlyphs">25 %</text>
<line x1="66.80" y1="354.70" x2="71.80" y2="354.70" stroke="#333" stroke-width="1.60"/>
<text x="62.80" y="358.10" font-size="9.60" text-anchor="end" fill="#222" stroke="#222" stroke-width="0.15" textLength="14.39" lengthAdjust="spacingAndGlyphs">0 %</text>
<line x1="78.20" y1="358.80" x2="78.20" y2="364.00" stroke="#333" stroke-width="1.60"/>
<text x="78.20" y="376.50" font-size="9.80" text-anchor="middle" fill="#222" stroke="#222" stroke-width="0.15" textLength="4.95" lengthAdjust="spacingAndGlyphs">0</text>
<line x1="131.40" y1="358.80" x2="131.40" y2="364.00" stroke="#333" stroke-width="1.60"/>
<text x="131.40" y="376.50" font-size="9.80" text-anchor="middle" fill="#222" stroke="#222" stroke-width="0.15" textLength="4.95" lengthAdjust="spacingAndGlyphs">1</text>
<line x1="184.60" y1="358.80" x2="184.60" y2="364.00" stroke="#333" stroke-width="1.60"/>
<text x="184.60" y="376.50" font-size="9.80" text-anchor="middle" fill="#222" stroke="#222" stroke-width="0.15" textLength="4.95" lengthAdjust="spacingAndGlyphs">2</text>
<line x1="237.80" y1="358.80" x2="237.80" y2="364.00" stroke="#333" stroke-width="1.60"/>
<text x="237.80" y="376.50" font-size="9.80" text-anchor="middle" fill="#222" stroke="#222" stroke-width="0.15" textLength="4.95" lengthAdjust="spacingAndGlyphs">3</text>
<text x="125.70" y="394.10" font-size="12.80" text-anchor="start" fill="#1a1a1a" stroke="#1a1a1a" stroke-width="0.20" textLength="64.20" lengthAdjust="spacingAndGlyphs">Time (years)</text>
<text transform="translate(26.90,355.80) rotate(-90)" x="0" y="0" font-size="13.2" fill="#1a1a1a" stroke="#1a1a1a" stroke-width="0.3" textLength="104.30" lengthAdjust="spacingAndGlyphs">Survival probability</text>
<text transform="translate(20.08,252.20) scale(0.840,1)" x="0" y="0" font-size="17.10" fill="#1a1a1a">C</text>
<text x="76.50" y="308.30" font-size="7.40" text-anchor="start" fill="#333" stroke="#333" stroke-width="0.10" textLength="18.21" lengthAdjust="spacingAndGlyphs">EBMT</text>
<line x1="76.10" y1="314.50" x2="89.10" y2="314.50" stroke="#47775d" stroke-width="1.30"/>
<text x="94.00" y="317.30" font-size="7.70" text-anchor="start" fill="#333" stroke="#333" stroke-width="0.12" textLength="12.05" lengthAdjust="spacingAndGlyphs">0–2</text>
<line x1="76.10" y1="323.50" x2="89.10" y2="323.50" stroke="#8e88be" stroke-width="1.30"/>
<text x="94.00" y="326.40" font-size="7.70" text-anchor="start" fill="#333" stroke="#333" stroke-width="0.12" textLength="3.98" lengthAdjust="spacingAndGlyphs">3</text>
<line x1="76.10" y1="332.50" x2="89.10" y2="332.50" stroke="#c8307c" stroke-width="1.30"/>
<text x="94.00" y="335.10" font-size="7.70" text-anchor="start" fill="#333" stroke="#333" stroke-width="0.12" textLength="3.98" lengthAdjust="spacingAndGlyphs">4</text>
<line x1="76.10" y1="341.50" x2="89.10" y2="341.50" stroke="#a52a42" stroke-width="1.30"/>
<text x="94.00" y="344.10" font-size="7.70" text-anchor="start" fill="#333" stroke="#333" stroke-width="0.12" textLength="3.98" lengthAdjust="spacingAndGlyphs">5</text>
<line x1="76.10" y1="350.50" x2="89.10" y2="350.50" stroke="#e9b53c" stroke-width="1.30"/>
<text x="94.00" y="353.00" font-size="7.70" text-anchor="start" fill="#333" stroke="#333" stroke-width="0.12" textLength="12.05" lengthAdjust="spacingAndGlyphs">6–7</text>
<path d="M78.20,251.90 H80.42 V252.76 H82.64 V253.62 H84.86 V254.48 H87.08 V255.34 H89.30 V256.20 H91.90 V257.95 H94.50 V259.70 H97.40 V261.73 H100.30 V263.77 H103.20 V265.80 H105.78 V267.52 H108.35 V269.25 H110.92 V270.98 H113.50 V272.70 H115.83 V274.13 H118.17 V275.57 H120.50 V277.00 H123.08 V277.88 H125.65 V278.75 H128.23 V279.62 H130.80 V280.50 H133.40 V280.93 H136.00 V281.35 H138.60 V281.77 H141.20 V282.20 H143.80 V282.43 H146.40 V282.65 H149.00 V282.88 H151.60 V283.10 H155.00 V284.00 H157.60 V284.65 H160.20 V285.30 H162.80 V285.95 H165.40 V286.60 H167.70 V287.03 H170.00 V287.47 H172.30 V287.90 H174.60 V288.33 H176.90 V288.77 H179.20 V289.20 H181.41 V289.28 H183.62 V289.36 H185.83 V289.45 H188.04 V289.53 H190.25 V289.61 H192.45 V289.69 H194.66 V289.77 H196.87 V289.85 H199.08 V289.94 H201.29 V290.02 H203.50 V290.10 H206.90 V292.70 H209.13 V292.70 H211.36 V292.70 H213.59 V292.70 H215.81 V292.70 H218.04 V292.70 H220.27 V292.70 H222.50 V292.70 H224.73 V292.70 H226.96 V292.70 H229.19 V292.70 H231.41 V292.70 H233.64 V292.70 H235.87 V292.70 H238.10 V292.70" fill="none" stroke="#47775d" stroke-width="1.30"/>
<path d="M87.79,253.12V258.12M102.79,263.01V268.01M109.96,267.83V272.83M118.79,273.45V278.45M122.11,275.05V280.05M124.08,275.72V280.72M135.68,278.80V283.80M143.00,279.86V284.86M148.78,280.36V285.36M157.42,282.10V287.10M161.82,283.20V288.20M169.09,284.80V289.80M175.65,286.03V291.03M178.06,286.49V291.49M180.68,286.75V291.75M183.50,286.86V291.86M185.95,286.95V291.95M190.36,287.11V292.11M192.81,287.20V292.20M196.10,287.33V292.33M197.76,287.39V292.39M203.57,287.65V292.65M206.30,289.74V294.74M209.52,290.20V295.20M213.30,290.20V295.20M218.55,290.20V295.20M221.37,290.20V295.20M226.45,290.20V295.20M229.51,290.20V295.20M232.66,290.20V295.20M235.72,290.20V295.20M236.56,290.20V295.20M237.60,290.20V295.20" fill="none" stroke="#47775d" stroke-width="0.95" opacity="0.9"/>
<path d="M78.20,251.90 H82.40 V257.10 H84.70 V258.53 H87.00 V259.97 H89.30 V261.40 H92.20 V262.87 H95.10 V264.33 H98.00 V265.80 H100.87 V266.93 H103.73 V268.07 H106.60 V269.20 H108.90 V271.23 H111.20 V273.27 H113.50 V275.30 H117.00 V281.30 H119.30 V282.47 H121.60 V283.63 H123.90 V284.80 H126.32 V285.32 H128.74 V285.84 H131.16 V286.36 H133.58 V286.88 H136.00 V287.40 H138.33 V288.57 H140.67 V289.73 H143.00 V290.90 H145.40 V291.08 H147.80 V291.26 H150.20 V291.44 H152.60 V291.62 H155.00 V291.80 H157.30 V292.38 H159.60 V292.97 H161.90 V293.55 H164.20 V294.13 H166.50 V294.72 H168.80 V295.30 H171.24 V295.98 H173.68 V296.66 H176.12 V297.34 H178.56 V298.02 H181.00 V298.70 H183.30 V299.00 H185.60 V299.30 H187.90 V299.60 H190.20 V299.90 H192.50 V300.20 H194.80 V300.50 H197.05 V300.58 H199.30 V300.66 H201.55 V300.74 H203.80 V300.82 H206.05 V300.90 H208.30 V300.98 H210.55 V301.06 H212.80 V301.14 H215.05 V301.22 H217.30 V301.30 H219.90 V301.95 H222.50 V302.60 H225.10 V303.25 H227.70 V303.90 H231.20 V306.50 H233.50 V306.50 H235.80 V306.50 H238.10 V306.50" fill="none" stroke="#8e88be" stroke-width="1.30"/>
<path d="M87.79,257.96V262.96M94.26,261.41V266.41M97.11,262.85V267.85M111.73,271.24V276.24M115.87,276.87V281.87M123.16,281.93V286.93M132.38,284.12V289.12M139.11,286.45V291.45M143.40,288.43V293.43M149.10,288.86V293.86M154.78,289.28V294.28M161.86,291.04V296.04M163.82,291.54V296.54M168.85,292.81V297.81M171.63,293.59V298.59M174.54,294.40V299.40M180.50,296.06V301.06M184.61,296.67V301.67M188.92,297.23V302.23M194.22,297.92V302.92M200.18,298.19V303.19M203.44,298.31V303.31M207.51,298.45V303.45M210.94,298.57V303.57M214.34,298.69V303.69M218.54,299.11V304.11M221.51,299.85V304.85M224.80,300.68V305.68M227.79,301.46V306.46M232.80,304.00V309.00M236.62,304.00V309.00M237.60,304.00V309.00" fill="none" stroke="#8e88be" stroke-width="0.95" opacity="0.9"/>
<path d="M78.20,251.90 H82.40 V258.80 H85.00 V259.70 H87.60 V260.60 H89.90 V262.90 H92.20 V265.20 H94.50 V267.50 H96.80 V269.53 H99.10 V271.57 H101.40 V273.60 H104.30 V276.47 H107.20 V279.33 H110.10 V282.20 H112.40 V283.37 H114.70 V284.53 H117.00 V285.70 H119.30 V286.57 H121.60 V287.43 H123.90 V288.30 H126.80 V290.60 H129.70 V292.90 H132.60 V295.20 H135.20 V296.50 H137.80 V297.80 H140.67 V298.37 H143.53 V298.93 H146.40 V299.50 H149.27 V300.10 H152.13 V300.70 H155.00 V301.30 H157.47 V301.80 H159.94 V302.30 H162.41 V302.80 H164.89 V303.30 H167.36 V303.80 H169.83 V304.30 H172.30 V304.80 H174.77 V305.04 H177.24 V305.29 H179.71 V305.53 H182.19 V305.77 H184.66 V306.01 H187.13 V306.26 H189.60 V306.50 H191.81 V306.50 H194.02 V306.50 H196.23 V306.50 H198.44 V306.50 H200.66 V306.50 H202.87 V306.50 H205.08 V306.50 H207.29 V306.50 H209.50 V306.50 H211.71 V306.50 H213.92 V306.50 H216.13 V306.50 H218.34 V306.50 H220.56 V306.50 H222.77 V306.50 H224.98 V306.50 H227.19 V306.50 H229.40 V306.50 H232.30 V306.80 H235.20 V307.10 H238.10 V307.40" fill="none" stroke="#c8307c" stroke-width="1.30"/>
<path d="M87.79,258.29V263.29M107.92,277.54V282.54M113.39,281.37V286.37M121.93,285.06V290.06M133.55,293.17V298.17M142.76,296.28V301.28M145.35,296.79V301.79M147.74,297.28V302.28M152.60,298.30V303.30M154.48,298.69V303.69M157.56,299.32V304.32M159.35,299.68V304.68M165.35,300.89V305.89M171.82,302.20V307.20M178.70,302.93V307.93M180.72,303.13V308.13M186.07,303.65V308.65M190.91,304.00V309.00M192.69,304.00V309.00M198.54,304.00V309.00M204.63,304.00V309.00M206.66,304.00V309.00M212.37,304.00V309.00M215.18,304.00V309.00M218.37,304.00V309.00M223.88,304.00V309.00M228.50,304.00V309.00M230.01,304.06V309.06M232.71,304.34V309.34M235.73,304.65V309.65M237.60,304.90V309.90" fill="none" stroke="#c8307c" stroke-width="0.95" opacity="0.9"/>
<path d="M78.20,251.90 H80.70 V258.80 H83.25 V261.40 H85.80 V264.00 H88.40 V267.50 H91.00 V271.00 H93.33 V273.00 H95.67 V275.00 H98.00 V277.00 H100.30 V278.73 H102.60 V280.47 H104.90 V282.20 H107.20 V284.23 H109.50 V286.27 H111.80 V288.30 H114.10 V290.03 H116.40 V291.77 H118.70 V293.50 H121.30 V294.80 H123.90 V296.10 H126.32 V296.26 H128.74 V296.42 H131.16 V296.58 H133.58 V296.74 H136.00 V296.90 H138.60 V297.80 H141.20 V298.70 H143.80 V299.12 H146.40 V299.55 H149.00 V299.97 H151.60 V300.40 H155.00 V302.20 H157.31 V302.68 H159.62 V303.16 H161.93 V303.63 H164.24 V304.11 H166.56 V304.59 H168.87 V305.07 H171.18 V305.54 H173.49 V306.02 H175.80 V306.50 H178.06 V306.50 H180.31 V306.50 H182.57 V306.50 H184.83 V306.50 H187.08 V306.50 H189.34 V306.50 H191.60 V306.50 H193.85 V306.50 H196.11 V306.50 H198.37 V306.50 H200.62 V306.50 H202.88 V306.50 H205.13 V306.50 H207.39 V306.50 H209.65 V306.50 H211.90 V306.50 H214.16 V306.50 H216.42 V306.50 H218.67 V306.50 H220.93 V306.50 H223.19 V306.50 H225.44 V306.50 H227.70 V306.50 H231.20 V313.50 H233.50 V313.77 H235.80 V314.03 H238.10 V314.30" fill="none" stroke="#a52a42" stroke-width="1.30"/>
<path d="M87.79,264.18V269.18M94.49,271.49V276.49M102.27,277.72V282.72M114.60,287.91V292.91M116.84,289.60V294.60M124.93,293.67V298.67M131.10,294.08V299.08M132.91,294.20V299.20M137.55,294.94V299.94M144.50,296.74V301.74M150.08,297.65V302.65M151.93,298.08V303.08M160.72,300.88V305.88M167.47,302.28V307.28M175.08,303.85V308.85M176.84,304.00V309.00M179.57,304.00V309.00M180.88,304.00V309.00M186.60,304.00V309.00M189.18,304.00V309.00M190.91,304.00V309.00M194.25,304.00V309.00M200.20,304.00V309.00M205.44,304.00V309.00M207.66,304.00V309.00M209.30,304.00V309.00M214.75,304.00V309.00M218.35,304.00V309.00M222.50,304.00V309.00M223.72,304.00V309.00M224.80,304.00V309.00M228.74,306.08V311.08M231.42,311.03V316.03M232.52,311.15V316.15M237.60,311.80V316.80" fill="none" stroke="#a52a42" stroke-width="0.95" opacity="0.9"/>
<path d="M78.20,251.90 H82.40 V260.60 H86.70 V267.50 H91.00 V274.40 H93.60 V277.00 H96.20 V279.60 H99.70 V286.50 H103.20 V292.60 H106.60 V294.30 H108.90 V295.17 H111.20 V296.03 H113.50 V296.90 H117.00 V300.40 H119.30 V300.97 H121.60 V301.53 H123.90 V302.10 H126.32 V302.62 H128.74 V303.14 H131.16 V303.66 H133.58 V304.18 H136.00 V304.70 H138.60 V305.55 H141.20 V306.40 H143.00 V309.90 H145.40 V309.92 H147.80 V309.94 H150.20 V309.96 H152.60 V309.98 H155.00 V310.00 H157.26 V310.07 H159.52 V310.14 H161.78 V310.21 H164.05 V310.28 H166.31 V310.35 H168.57 V310.42 H170.83 V310.48 H173.09 V310.55 H175.35 V310.62 H177.62 V310.69 H179.88 V310.76 H182.14 V310.83 H184.40 V310.90 H185.30 V312.60 H187.60 V312.60 H189.89 V312.60 H192.19 V312.60 H194.48 V312.60 H196.78 V312.60 H199.07 V312.60 H201.37 V312.60 H203.67 V312.60 H205.96 V312.60 H208.26 V312.60 H210.55 V312.60 H212.85 V312.60 H215.14 V312.60 H217.44 V312.60 H219.73 V312.60 H222.03 V312.60 H224.33 V312.60 H226.62 V312.60 H228.92 V312.60 H231.21 V312.60 H233.51 V312.60 H235.80 V312.60 H238.10 V312.60" fill="none" stroke="#e9b53c" stroke-width="1.30"/>
<path d="M87.79,266.76V271.76M102.38,288.67V293.67M115.78,296.68V301.68M118.70,298.32V303.32M129.86,300.88V305.88M132.15,301.37V306.37M141.72,304.91V309.91M146.97,307.43V312.43M151.05,307.47V312.47M156.61,307.55V312.55M164.61,307.79V312.79M167.63,307.89V312.89M169.65,307.95V312.95M174.23,308.09V313.09M176.84,308.17V313.17M178.61,308.22V313.22M180.67,308.29V313.29M182.03,308.33V313.33M184.28,308.40V313.40M187.13,310.10V315.10M189.90,310.10V315.10M195.16,310.10V315.10M197.70,310.10V315.10M201.32,310.10V315.10M203.17,310.10V315.10M205.87,310.10V315.10M206.86,310.10V315.10M209.02,310.10V315.10M209.98,310.10V315.10M214.49,310.10V315.10M218.00,310.10V315.10M219.73,310.10V315.10M222.79,310.10V315.10M227.91,310.10V315.10M229.17,310.10V315.10M233.60,310.10V315.10M236.25,310.10V315.10M237.60,310.10V315.10" fill="none" stroke="#e9b53c" stroke-width="0.95" opacity="0.9"/>
<text x="64.40" y="408.80" font-size="10.20" text-anchor="end" fill="#1a1a1a" stroke="#1a1a1a" stroke-width="0.20" textLength="27.04" lengthAdjust="spacingAndGlyphs">At risk:</text>
<text x="64.40" y="420.40" font-size="10.20" text-anchor="end" fill="#1a1a1a" stroke="#1a1a1a" stroke-width="0.20" textLength="16.27" lengthAdjust="spacingAndGlyphs">0–2:</text>
<text x="78.20" y="420.40" font-size="10.20" text-anchor="middle" fill="#47775d" textLength="14.11" lengthAdjust="spacingAndGlyphs">122</text>
<text x="131.40" y="420.40" font-size="10.20" text-anchor="middle" fill="#47775d" textLength="9.41" lengthAdjust="spacingAndGlyphs">85</text>
<text x="184.60" y="420.40" font-size="10.20" text-anchor="middle" fill="#47775d" textLength="9.41" lengthAdjust="spacingAndGlyphs">57</text>
<text x="237.80" y="420.40" font-size="10.20" text-anchor="middle" fill="#47775d" textLength="9.41" lengthAdjust="spacingAndGlyphs">31</text>
<text x="64.40" y="431.45" font-size="10.20" text-anchor="end" fill="#1a1a1a" stroke="#1a1a1a" stroke-width="0.20" textLength="6.71" lengthAdjust="spacingAndGlyphs">3:</text>
<text x="78.20" y="431.45" font-size="10.20" text-anchor="middle" fill="#8e88be" textLength="14.11" lengthAdjust="spacingAndGlyphs">140</text>
<text x="131.40" y="431.45" font-size="10.20" text-anchor="middle" fill="#8e88be" textLength="9.41" lengthAdjust="spacingAndGlyphs">88</text>
<text x="184.60" y="431.45" font-size="10.20" text-anchor="middle" fill="#8e88be" textLength="9.41" lengthAdjust="spacingAndGlyphs">48</text>
<text x="237.80" y="431.45" font-size="10.20" text-anchor="middle" fill="#8e88be" textLength="9.41" lengthAdjust="spacingAndGlyphs">21</text>
<text x="64.40" y="442.50" font-size="10.20" text-anchor="end" fill="#1a1a1a" stroke="#1a1a1a" stroke-width="0.20" textLength="6.71" lengthAdjust="spacingAndGlyphs">4:</text>
<text x="78.20" y="442.50" font-size="10.20" text-anchor="middle" fill="#c8307c" textLength="14.11" lengthAdjust="spacingAndGlyphs">121</text>
<text x="131.40" y="442.50" font-size="10.20" text-anchor="middle" fill="#c8307c" textLength="9.41" lengthAdjust="spacingAndGlyphs">68</text>
<text x="184.60" y="442.50" font-size="10.20" text-anchor="middle" fill="#c8307c" textLength="9.41" lengthAdjust="spacingAndGlyphs">33</text>
<text x="237.80" y="442.50" font-size="10.20" text-anchor="middle" fill="#c8307c" textLength="9.41" lengthAdjust="spacingAndGlyphs">18</text>
<text x="64.40" y="453.55" font-size="10.20" text-anchor="end" fill="#1a1a1a" stroke="#1a1a1a" stroke-width="0.20" textLength="6.71" lengthAdjust="spacingAndGlyphs">5:</text>
<text x="78.20" y="453.55" font-size="10.20" text-anchor="middle" fill="#a52a42" textLength="9.41" lengthAdjust="spacingAndGlyphs">84</text>
<text x="131.40" y="453.55" font-size="10.20" text-anchor="middle" fill="#a52a42" textLength="9.41" lengthAdjust="spacingAndGlyphs">42</text>
<text x="184.60" y="453.55" font-size="10.20" text-anchor="middle" fill="#a52a42" textLength="9.41" lengthAdjust="spacingAndGlyphs">26</text>
<text x="237.80" y="453.55" font-size="10.20" text-anchor="middle" fill="#a52a42" textLength="9.41" lengthAdjust="spacingAndGlyphs">12</text>
<text x="64.40" y="464.60" font-size="10.20" text-anchor="end" fill="#1a1a1a" stroke="#1a1a1a" stroke-width="0.20" textLength="16.27" lengthAdjust="spacingAndGlyphs">6–7:</text>
<text x="78.20" y="464.60" font-size="10.20" text-anchor="middle" fill="#e9b53c" textLength="9.41" lengthAdjust="spacingAndGlyphs">61</text>
<text x="131.40" y="464.60" font-size="10.20" text-anchor="middle" fill="#e9b53c" textLength="9.41" lengthAdjust="spacingAndGlyphs">26</text>
<text x="184.60" y="464.60" font-size="10.20" text-anchor="middle" fill="#e9b53c" textLength="9.41" lengthAdjust="spacingAndGlyphs">18</text>
<text x="237.80" y="464.60" font-size="10.20" text-anchor="middle" fill="#e9b53c" textLength="9.41" lengthAdjust="spacingAndGlyphs">12</text>
<line x1="336.70" y1="250.10" x2="336.70" y2="359.65" stroke="#111" stroke-width="1.40"/>
<line x1="336.00" y1="358.80" x2="506.90" y2="358.80" stroke="#111" stroke-width="1.70"/>
<line x1="331.70" y1="254.50" x2="336.70" y2="254.50" stroke="#333" stroke-width="1.60"/>
<text x="327.30" y="257.90" font-size="9.60" text-anchor="end" fill="#222" stroke="#222" stroke-width="0.15" textLength="23.37" lengthAdjust="spacingAndGlyphs">100 %</text>
<line x1="331.70" y1="279.57" x2="336.70" y2="279.57" stroke="#333" stroke-width="1.60"/>
<text x="327.30" y="282.97" font-size="9.60" text-anchor="end" fill="#222" stroke="#222" stroke-width="0.15" textLength="18.66" lengthAdjust="spacingAndGlyphs">75 %</text>
<line x1="331.70" y1="304.65" x2="336.70" y2="304.65" stroke="#333" stroke-width="1.60"/>
<text x="327.30" y="308.05" font-size="9.60" text-anchor="end" fill="#222" stroke="#222" stroke-width="0.15" textLength="18.66" lengthAdjust="spacingAndGlyphs">50 %</text>
<line x1="331.70" y1="329.73" x2="336.70" y2="329.73" stroke="#333" stroke-width="1.60"/>
<text x="327.30" y="333.12" font-size="9.60" text-anchor="end" fill="#222" stroke="#222" stroke-width="0.15" textLength="18.66" lengthAdjust="spacingAndGlyphs">25 %</text>
<line x1="331.70" y1="354.80" x2="336.70" y2="354.80" stroke="#333" stroke-width="1.60"/>
<text x="327.30" y="358.20" font-size="9.60" text-anchor="end" fill="#222" stroke="#222" stroke-width="0.15" textLength="13.96" lengthAdjust="spacingAndGlyphs">0 %</text>
<line x1="343.00" y1="358.80" x2="343.00" y2="364.00" stroke="#333" stroke-width="1.60"/>
<text x="343.00" y="376.60" font-size="9.80" text-anchor="middle" fill="#222" stroke="#222" stroke-width="0.15" textLength="4.95" lengthAdjust="spacingAndGlyphs">0</text>
<line x1="395.33" y1="358.80" x2="395.33" y2="364.00" stroke="#333" stroke-width="1.60"/>
<text x="395.33" y="376.60" font-size="9.80" text-anchor="middle" fill="#222" stroke="#222" stroke-width="0.15" textLength="4.95" lengthAdjust="spacingAndGlyphs">1</text>
<line x1="447.67" y1="358.80" x2="447.67" y2="364.00" stroke="#333" stroke-width="1.60"/>
<text x="447.67" y="376.60" font-size="9.80" text-anchor="middle" fill="#222" stroke="#222" stroke-width="0.15" textLength="4.95" lengthAdjust="spacingAndGlyphs">2</text>
<line x1="500.00" y1="358.80" x2="500.00" y2="364.00" stroke="#333" stroke-width="1.60"/>
<text x="500.00" y="376.60" font-size="9.80" text-anchor="middle" fill="#222" stroke="#222" stroke-width="0.15" textLength="4.95" lengthAdjust="spacingAndGlyphs">3</text>
<text x="388.80" y="393.80" font-size="12.80" text-anchor="start" fill="#1a1a1a" stroke="#1a1a1a" stroke-width="0.20" textLength="65.10" lengthAdjust="spacingAndGlyphs">Time (years)</text>
<text transform="translate(288.80,356.90) rotate(-90)" x="0" y="0" font-size="13.2" fill="#1a1a1a" stroke="#1a1a1a" stroke-width="0.3" textLength="104.00" lengthAdjust="spacingAndGlyphs">Survival probability</text>
<text transform="translate(279.15,252.50) scale(0.960,1)" x="0" y="0" font-size="17.10" fill="#1a1a1a">D</text>
<text x="341.50" y="316.50" font-size="7.40" text-anchor="start" fill="#333" stroke="#333" stroke-width="0.10"></text>
<line x1="341.20" y1="320.50" x2="354.20" y2="320.50" stroke="#47775d" stroke-width="1.20"/>
<text x="358.50" y="322.70" font-size="6.30" text-anchor="start" fill="#555" textLength="42.72" lengthAdjust="spacingAndGlyphs">HCT 0, EBMT &lt;4</text>
<line x1="341.20" y1="327.50" x2="354.20" y2="327.50" stroke="#47775d" stroke-width="1.30" stroke-dasharray="4.8,3.2"/>
<text x="358.50" y="329.70" font-size="6.30" text-anchor="start" fill="#555" textLength="44.12" lengthAdjust="spacingAndGlyphs">HCT 0, EBMT ≥ 4</text>
<line x1="341.20" y1="334.00" x2="354.20" y2="334.00" stroke="#d4579c" stroke-width="1.90"/>
<text x="358.50" y="336.20" font-size="6.30" text-anchor="start" fill="#555" textLength="49.22" lengthAdjust="spacingAndGlyphs">HCT 1–2, EBMT &lt;4</text>
<line x1="341.20" y1="341.00" x2="354.20" y2="341.00" stroke="#d4579c" stroke-width="1.90" stroke-dasharray="4.8,3.2"/>
<text x="358.50" y="343.20" font-size="6.30" text-anchor="start" fill="#555" textLength="50.62" lengthAdjust="spacingAndGlyphs">HCT 1–2, EBMT ≥ 4</text>
<line x1="341.20" y1="348.00" x2="354.20" y2="348.00" stroke="#a52a42" stroke-width="1.70"/>
<text x="358.50" y="350.10" font-size="6.30" text-anchor="start" fill="#555" textLength="46.66" lengthAdjust="spacingAndGlyphs">HCT 3+, EBMT &lt;4</text>
<line x1="341.20" y1="355.00" x2="354.20" y2="355.00" stroke="#a52a42" stroke-width="1.70" stroke-dasharray="4.8,3.2"/>
<text x="358.50" y="357.00" font-size="6.30" text-anchor="start" fill="#555" textLength="48.05" lengthAdjust="spacingAndGlyphs">HCT 3+, EBMT ≥ 4</text>
<path d="M343.00,254.50 H347.40 V257.80 H350.00 V259.30 H352.60 V260.80 H355.20 V262.30 H357.80 V263.80 H360.10 V264.97 H362.40 V266.13 H364.70 V267.30 H367.00 V268.47 H369.30 V269.63 H371.60 V270.80 H374.50 V273.40 H377.40 V276.00 H380.30 V278.60 H383.20 V279.73 H386.10 V280.87 H389.00 V282.00 H391.57 V283.07 H394.15 V284.15 H396.73 V285.23 H399.30 V286.30 H401.90 V287.18 H404.50 V288.05 H407.10 V288.93 H409.70 V289.80 H412.27 V291.10 H414.85 V292.40 H417.43 V293.70 H420.00 V295.00 H422.30 V296.32 H424.60 V297.63 H426.90 V298.95 H429.20 V300.27 H431.50 V301.58 H433.80 V302.90 H433.80 V304.60 H436.07 V304.60 H438.35 V304.60 H440.62 V304.60 H442.90 V304.60 H445.18 V304.60 H447.45 V304.60 H449.73 V304.60 H452.00 V304.60 H454.27 V304.60 H456.55 V304.60 H458.82 V304.60 H461.10 V304.60 H463.38 V304.60 H465.65 V304.60 H467.93 V304.60 H470.20 V304.60 H472.00 V307.20 H474.46 V307.20 H476.91 V307.20 H479.37 V307.20 H481.83 V307.20 H484.29 V307.20 H486.74 V307.20 H489.20 V307.20 H491.80 V313.30 H494.70 V313.30 H497.60 V313.30 H500.50 V313.30" fill="none" stroke="#47775d" stroke-width="1.30"/>
<path d="M352.45,258.21V263.21M370.64,267.81V272.81M377.97,274.01V279.01M385.86,278.27V283.27M394.85,281.94V286.94M405.68,285.95V290.95M410.00,287.45V292.45M418.04,291.51V296.51M424.57,295.12V300.12M430.25,298.37V303.37M434.12,302.10V307.10M437.51,302.10V307.10M438.96,302.10V307.10M440.87,302.10V307.10M442.39,302.10V307.10M447.95,302.10V307.10M450.47,302.10V307.10M452.42,302.10V307.10M453.89,302.10V307.10M459.59,302.10V307.10M465.23,302.10V307.10M469.63,302.10V307.10M471.95,304.62V309.62M474.03,304.70V309.70M476.34,304.70V309.70M479.43,304.70V309.70M481.02,304.70V309.70M483.96,304.70V309.70M486.01,304.70V309.70M491.24,309.48V314.48M496.36,310.80V315.80M500.00,310.80V315.80" fill="none" stroke="#47775d" stroke-width="0.95" opacity="0.9"/>
<path d="M343.00,254.50 H345.60 V256.47 H348.20 V258.43 H350.80 V260.40 H353.13 V263.27 H355.47 V266.13 H357.80 V269.00 H360.80 V273.80 H363.80 V278.60 H367.30 V288.00 H369.87 V290.00 H372.43 V292.00 H375.00 V294.00 H377.33 V294.45 H379.67 V294.90 H382.00 V295.35 H384.33 V295.80 H386.67 V296.25 H389.00 V296.70 H391.57 V296.93 H394.15 V297.15 H396.73 V297.38 H399.30 V297.60 H401.60 V298.47 H403.90 V299.33 H406.20 V300.20 H408.51 V300.23 H410.82 V300.27 H413.13 V300.30 H415.44 V300.33 H417.76 V300.37 H420.07 V300.40 H422.38 V300.43 H424.69 V300.47 H427.00 V300.50 H429.26 V300.58 H431.53 V300.66 H433.79 V300.74 H436.05 V300.82 H438.32 V300.89 H440.58 V300.97 H442.84 V301.05 H445.11 V301.13 H447.37 V301.21 H449.63 V301.29 H451.89 V301.37 H454.16 V301.45 H456.42 V301.53 H458.68 V301.61 H460.95 V301.68 H463.21 V301.76 H465.47 V301.84 H467.74 V301.92 H470.00 V302.00 H472.35 V302.08 H474.69 V302.15 H477.04 V302.23 H479.38 V302.31 H481.73 V302.38 H484.08 V302.46 H486.42 V302.54 H488.77 V302.62 H491.12 V302.69 H493.46 V302.77 H495.81 V302.85 H498.15 V302.92 H500.50 V303.00" fill="none" stroke="#47775d" stroke-width="1.30" stroke-dasharray="4.5,2.5"/>
<path d="M352.45,259.93V264.93M360.02,270.06V275.06M377.65,292.01V297.01M383.29,293.10V298.10M389.02,294.20V299.20M390.80,294.36V299.36M396.26,294.83V299.83M402.25,296.21V301.21M408.10,297.73V302.73M411.17,297.77V302.77M416.54,297.85V302.85M417.90,297.87V302.87M421.16,297.92V302.92M423.08,297.94V302.94M427.15,298.01V303.01M428.64,298.06V303.06M429.99,298.10V303.10M433.20,298.22V303.22M435.86,298.31V303.31M440.72,298.48V303.48M445.06,298.63V303.63M450.58,298.82V303.82M455.35,298.99V303.99M460.30,299.16V304.16M465.96,299.36V304.36M468.88,299.46V304.46M471.43,299.55V304.55M477.24,299.74V304.74M478.81,299.79V304.79M483.12,299.93V304.93M486.95,300.06V305.06M487.96,300.09V305.09M492.55,300.24V305.24M497.29,300.39V305.39M500.00,300.50V305.50" fill="none" stroke="#47775d" stroke-width="0.95" opacity="0.9"/>
<path d="M343.00,254.50 H345.26 V256.02 H347.52 V257.54 H349.78 V259.06 H352.04 V260.58 H354.30 V262.10 H356.77 V263.59 H359.24 V265.07 H361.71 V266.56 H364.19 V268.04 H366.66 V269.53 H369.13 V271.01 H371.60 V272.50 H373.92 V274.08 H376.23 V275.67 H378.55 V277.25 H380.87 V278.83 H383.18 V280.42 H385.50 V282.00 H387.80 V282.43 H390.10 V282.87 H392.40 V283.30 H394.70 V283.73 H397.00 V284.17 H399.30 V284.60 H401.60 V285.17 H403.90 V285.73 H406.20 V286.30 H408.51 V286.49 H410.82 V286.68 H413.13 V286.87 H415.44 V287.06 H417.76 V287.24 H420.07 V287.43 H422.38 V287.62 H424.69 V287.81 H427.00 V288.00 H429.24 V287.99 H431.48 V287.98 H433.72 V287.97 H435.96 V287.96 H438.20 V287.94 H440.44 V287.93 H442.69 V287.92 H444.93 V287.91 H447.17 V287.90 H449.41 V287.89 H451.65 V287.88 H453.89 V287.87 H456.13 V287.86 H458.37 V287.84 H460.61 V287.83 H462.85 V287.82 H465.09 V287.81 H467.33 V287.80 H469.57 V287.79 H471.81 V287.78 H474.06 V287.77 H476.30 V287.76 H478.54 V287.74 H480.78 V287.73 H483.02 V287.72 H485.26 V287.71 H487.50 V287.70 H489.20 V289.90 H491.50 V290.47 H493.80 V291.03 H496.10 V291.60 H500.50 V292.50" fill="none" stroke="#d4579c" stroke-width="1.50"/>
<path d="M352.45,258.36V263.36M368.83,268.33V273.33M381.93,277.06V282.06M385.38,279.42V284.42M392.71,280.86V285.86M399.23,282.09V287.09M408.23,283.97V288.97M416.19,284.62V289.62M423.73,285.23V290.23M429.08,285.49V290.49M436.28,285.45V290.45M441.74,285.43V290.43M447.04,285.40V290.40M449.43,285.39V290.39M450.63,285.38V290.38M452.40,285.37V290.37M455.43,285.36V290.36M456.99,285.35V290.35M462.54,285.32V290.32M466.42,285.30V290.30M470.57,285.28V290.28M474.61,285.26V290.26M478.81,285.24V290.24M482.00,285.23V290.23M482.84,285.22V290.22M487.40,285.20V290.20M491.61,287.99V292.99M494.64,288.74V293.74M497.76,289.44V294.44M500.00,290.00V295.00" fill="none" stroke="#d4579c" stroke-width="0.95" opacity="0.9"/>
<path d="M343.00,254.50 H347.40 V260.40 H350.00 V262.12 H352.60 V263.85 H355.20 V265.57 H357.80 V267.30 H360.10 V268.75 H362.40 V270.20 H364.70 V271.65 H367.00 V273.10 H369.30 V274.55 H371.60 V276.00 H373.92 V277.15 H376.23 V278.30 H378.55 V279.45 H380.87 V280.60 H383.18 V281.75 H385.50 V282.90 H387.80 V283.92 H390.10 V284.93 H392.40 V285.95 H394.70 V286.97 H397.00 V287.98 H399.30 V289.00 H401.90 V290.27 H404.50 V291.55 H407.10 V292.83 H409.70 V294.10 H412.17 V294.47 H414.64 V294.84 H417.11 V295.21 H419.59 V295.59 H422.06 V295.96 H424.53 V296.33 H427.00 V296.70 H429.38 V297.26 H431.75 V297.82 H434.12 V298.39 H436.50 V298.95 H438.88 V299.51 H441.25 V300.07 H443.62 V300.64 H446.00 V301.20 H448.36 V301.35 H450.73 V301.51 H453.09 V301.66 H455.45 V301.82 H457.82 V301.97 H460.18 V302.13 H462.55 V302.28 H464.91 V302.44 H467.27 V302.59 H469.64 V302.75 H472.00 V302.90 H474.46 V303.01 H476.91 V303.13 H479.37 V303.24 H481.83 V303.36 H484.29 V303.47 H486.74 V303.59 H489.20 V303.70 H491.46 V304.06 H493.72 V304.42 H495.98 V304.78 H498.24 V305.14 H500.50 V305.50" fill="none" stroke="#d4579c" stroke-width="1.30" stroke-dasharray="4.5,2.5"/>
<path d="M352.45,261.25V266.25M356.81,264.15V269.15M371.81,273.61V278.61M377.23,276.30V281.30M380.16,277.75V282.75M385.12,280.21V285.21M394.63,284.43V289.43M398.20,286.01V291.01M406.45,290.00V295.00M415.96,292.54V297.54M421.01,293.30V298.30M425.04,293.91V298.91M429.60,294.82V299.82M435.36,296.18V301.18M441.40,297.61V302.61M446.25,298.72V303.72M451.09,299.03V304.03M452.54,299.13V304.13M454.37,299.25V304.25M456.77,299.40V304.40M461.81,299.73V304.73M464.37,299.90V304.90M468.26,300.16V305.16M469.22,300.22V305.22M470.42,300.30V305.30M472.66,300.43V305.43M476.87,300.63V305.63M481.08,300.82V305.82M485.10,301.01V306.01M487.26,301.11V306.11M490.42,301.39V306.39M493.29,301.85V306.85M496.13,302.30V307.30M497.41,302.51V307.51M500.00,303.00V308.00" fill="none" stroke="#d4579c" stroke-width="0.95" opacity="0.9"/>
<path d="M343.00,254.50 H345.26 V256.20 H347.52 V257.90 H349.78 V259.60 H352.04 V261.30 H354.30 V263.00 H356.77 V264.49 H359.24 V265.97 H361.71 V267.46 H364.19 V268.94 H366.66 V270.43 H369.13 V271.91 H371.60 V273.40 H373.92 V274.98 H376.23 V276.57 H378.55 V278.15 H380.87 V279.73 H383.18 V281.32 H385.50 V282.90 H387.80 V283.33 H390.10 V283.77 H392.40 V284.20 H394.70 V284.63 H397.00 V285.07 H399.30 V285.50 H401.53 V286.00 H403.76 V286.50 H405.99 V287.00 H408.21 V287.50 H410.44 V288.00 H412.67 V288.50 H414.90 V289.00 H417.32 V289.00 H419.74 V289.00 H422.16 V289.00 H424.58 V289.00 H427.00 V289.00 H429.30 V289.87 H431.60 V290.73 H433.90 V291.60 H436.20 V292.47 H438.50 V293.33 H440.80 V294.20 H442.50 V297.70 H444.80 V297.98 H447.10 V298.27 H449.40 V298.55 H451.70 V298.83 H454.00 V299.12 H456.30 V299.40 H458.90 V299.85 H461.50 V300.30 H464.10 V300.75 H466.70 V301.20 H468.93 V301.44 H471.16 V301.69 H473.39 V301.93 H475.61 V302.17 H477.84 V302.41 H480.07 V302.66 H482.30 V302.90 H484.90 V303.10 H487.50 V303.30 H490.10 V303.50 H492.70 V303.70 H495.30 V304.00 H497.90 V304.30 H500.50 V304.60" fill="none" stroke="#a52a42" stroke-width="1.40"/>
<path d="M352.45,259.11V264.11M359.21,263.45V268.45M377.31,274.80V279.80M390.28,281.30V286.30M392.19,281.66V286.66M398.31,282.81V287.81M407.27,284.79V289.79M416.64,286.50V291.50M421.33,286.50V291.50M424.53,286.50V291.50M427.23,286.59V291.59M434.89,289.47V294.47M437.38,290.41V295.41M442.16,294.50V299.50M444.09,295.40V300.40M448.29,295.91V300.91M454.86,296.72V301.72M456.58,296.95V301.95M462.05,297.90V302.90M465.69,298.52V303.52M471.20,299.19V304.19M475.60,299.67V304.67M477.59,299.89V304.89M482.77,300.44V305.44M485.87,300.67V305.67M486.79,300.75V305.75M487.62,300.81V305.81M490.66,301.04V306.04M493.47,301.29V306.29M495.58,301.53V306.53M496.96,301.69V306.69M499.21,301.95V306.95M500.00,302.10V307.10" fill="none" stroke="#a52a42" stroke-width="0.95" opacity="0.9"/>
<path d="M343.00,254.50 H344.80 V263.80 H347.80 V266.00 H350.80 V268.20 H353.40 V271.23 H356.00 V274.25 H358.60 V277.27 H361.20 V280.30 H363.53 V283.47 H365.87 V286.63 H368.20 V289.80 H371.07 V293.27 H373.93 V296.73 H376.80 V300.20 H379.24 V301.24 H381.68 V302.28 H384.12 V303.32 H386.56 V304.36 H389.00 V305.40 H391.57 V305.82 H394.15 V306.25 H396.73 V306.68 H399.30 V307.10 H401.90 V307.75 H404.50 V308.40 H407.10 V309.05 H409.70 V309.70 H412.00 V310.57 H414.30 V311.43 H416.60 V312.30 H419.20 V313.10 H421.80 V313.90 H424.40 V314.70 H427.00 V315.50 H429.57 V315.80 H432.15 V316.10 H434.73 V316.40 H437.30 V316.70 H439.77 V316.83 H442.24 V316.96 H444.71 V317.09 H447.19 V317.21 H449.66 V317.34 H452.13 V317.47 H454.60 V317.60 H457.09 V317.67 H459.57 V317.74 H462.06 V317.81 H464.54 V317.89 H467.03 V317.96 H469.51 V318.03 H472.00 V318.10 H474.46 V318.20 H476.91 V318.30 H479.37 V318.40 H481.83 V318.50 H484.29 V318.60 H486.74 V318.70 H489.20 V318.80 H491.80 V319.50 H494.40 V320.20 H497.45 V320.20 H500.50 V320.20" fill="none" stroke="#a52a42" stroke-width="1.30" stroke-dasharray="4.5,2.5"/>
<path d="M352.45,267.62V272.62M370.74,290.37V295.37M373.03,293.14V298.14M384.54,301.00V306.00M395.28,303.94V308.94M398.04,304.39V309.39M407.98,306.77V311.77M415.21,309.28V314.28M423.39,311.89V316.89M426.68,312.90V317.90M430.45,313.40V318.40M434.24,313.84V318.84M441.83,314.44V319.44M446.49,314.68V319.68M449.66,314.84V319.84M453.14,315.02V320.02M455.68,315.13V320.13M456.92,315.17V320.17M458.45,315.21V320.21M463.94,315.37V320.37M466.36,315.44V320.44M472.09,315.60V320.60M474.21,315.69V320.69M476.39,315.78V320.78M479.73,315.91V320.91M481.47,315.99V320.99M484.06,316.09V321.09M489.32,316.33V321.33M494.10,317.62V322.62M498.45,317.70V322.70M500.00,317.70V322.70" fill="none" stroke="#a52a42" stroke-width="0.95" opacity="0.9"/>
<text x="328.00" y="399.50" font-size="10.20" text-anchor="end" fill="#1a1a1a" stroke="#1a1a1a" stroke-width="0.20" textLength="27.04" lengthAdjust="spacingAndGlyphs">At risk:</text>
<text x="328.00" y="410.80" font-size="10.20" text-anchor="end" fill="#1a1a1a" stroke="#1a1a1a" stroke-width="0.20" textLength="52.37" lengthAdjust="spacingAndGlyphs">(HCT / EBMT)</text>
<text x="328.00" y="421.20" font-size="10.20" text-anchor="end" fill="#1a1a1a" stroke="#1a1a1a" stroke-width="0.20" textLength="26.69" lengthAdjust="spacingAndGlyphs">0 / &lt; 4:</text>
<text x="343.00" y="421.20" font-size="10.20" text-anchor="middle" fill="#47775d" textLength="9.41" lengthAdjust="spacingAndGlyphs">62</text>
<text x="395.33" y="421.20" font-size="10.20" text-anchor="middle" fill="#47775d" textLength="9.41" lengthAdjust="spacingAndGlyphs">41</text>
<text x="447.67" y="421.20" font-size="10.20" text-anchor="middle" fill="#47775d" textLength="9.41" lengthAdjust="spacingAndGlyphs">19</text>
<text x="500.00" y="421.20" font-size="10.20" text-anchor="middle" fill="#47775d" textLength="4.70" lengthAdjust="spacingAndGlyphs">7</text>
<text x="328.00" y="432.20" font-size="10.20" text-anchor="end" fill="#1a1a1a" stroke="#1a1a1a" stroke-width="0.20" textLength="26.69" lengthAdjust="spacingAndGlyphs">0 / ≥ 4:</text>
<text x="343.00" y="432.20" font-size="10.20" text-anchor="middle" fill="#47775d" textLength="9.41" lengthAdjust="spacingAndGlyphs">41</text>
<text x="395.33" y="432.20" font-size="10.20" text-anchor="middle" fill="#47775d" textLength="9.41" lengthAdjust="spacingAndGlyphs">21</text>
<text x="447.67" y="432.20" font-size="10.20" text-anchor="middle" fill="#47775d" textLength="9.41" lengthAdjust="spacingAndGlyphs">12</text>
<text x="500.00" y="432.20" font-size="10.20" text-anchor="middle" fill="#47775d" textLength="4.70" lengthAdjust="spacingAndGlyphs">3</text>
<text x="328.00" y="443.20" font-size="10.20" text-anchor="end" fill="#1a1a1a" stroke="#1a1a1a" stroke-width="0.20" textLength="34.38" lengthAdjust="spacingAndGlyphs">1-2 / &lt; 4:</text>
<text x="343.00" y="443.20" font-size="10.20" text-anchor="middle" fill="#c8307c" textLength="9.41" lengthAdjust="spacingAndGlyphs">95</text>
<text x="395.33" y="443.20" font-size="10.20" text-anchor="middle" fill="#c8307c" textLength="9.41" lengthAdjust="spacingAndGlyphs">62</text>
<text x="447.67" y="443.20" font-size="10.20" text-anchor="middle" fill="#c8307c" textLength="9.41" lengthAdjust="spacingAndGlyphs">44</text>
<text x="500.00" y="443.20" font-size="10.20" text-anchor="middle" fill="#c8307c" textLength="9.41" lengthAdjust="spacingAndGlyphs">27</text>
<text x="328.00" y="454.20" font-size="10.20" text-anchor="end" fill="#1a1a1a" stroke="#1a1a1a" stroke-width="0.20" textLength="34.38" lengthAdjust="spacingAndGlyphs">1-2 / ≥ 4:</text>
<text x="343.00" y="454.20" font-size="10.20" text-anchor="middle" fill="#c8307c" textLength="9.41" lengthAdjust="spacingAndGlyphs">99</text>
<text x="395.33" y="454.20" font-size="10.20" text-anchor="middle" fill="#c8307c" textLength="9.41" lengthAdjust="spacingAndGlyphs">57</text>
<text x="447.67" y="454.20" font-size="10.20" text-anchor="middle" fill="#c8307c" textLength="9.41" lengthAdjust="spacingAndGlyphs">33</text>
<text x="500.00" y="454.20" font-size="10.20" text-anchor="middle" fill="#c8307c" textLength="9.41" lengthAdjust="spacingAndGlyphs">22</text>
<text x="328.00" y="465.20" font-size="10.20" text-anchor="end" fill="#1a1a1a" stroke="#1a1a1a" stroke-width="0.20" textLength="32.48" lengthAdjust="spacingAndGlyphs">3+ / &lt; 4:</text>
<text x="343.00" y="465.20" font-size="10.20" text-anchor="middle" fill="#a52a42" textLength="14.11" lengthAdjust="spacingAndGlyphs">105</text>
<text x="395.33" y="465.20" font-size="10.20" text-anchor="middle" fill="#a52a42" textLength="9.41" lengthAdjust="spacingAndGlyphs">70</text>
<text x="447.67" y="465.20" font-size="10.20" text-anchor="middle" fill="#a52a42" textLength="9.41" lengthAdjust="spacingAndGlyphs">42</text>
<text x="500.00" y="465.20" font-size="10.20" text-anchor="middle" fill="#a52a42" textLength="9.41" lengthAdjust="spacingAndGlyphs">18</text>
<text x="328.00" y="476.20" font-size="10.20" text-anchor="end" fill="#1a1a1a" stroke="#1a1a1a" stroke-width="0.20" textLength="32.48" lengthAdjust="spacingAndGlyphs">3+ / ≥ 4:</text>
<text x="343.00" y="476.20" font-size="10.20" text-anchor="middle" fill="#a52a42" textLength="14.11" lengthAdjust="spacingAndGlyphs">126</text>
<text x="395.33" y="476.20" font-size="10.20" text-anchor="middle" fill="#a52a42" textLength="9.41" lengthAdjust="spacingAndGlyphs">58</text>
<text x="447.67" y="476.20" font-size="10.20" text-anchor="middle" fill="#a52a42" textLength="9.41" lengthAdjust="spacingAndGlyphs">32</text>
<text x="500.00" y="476.20" font-size="10.20" text-anchor="middle" fill="#a52a42" textLength="9.41" lengthAdjust="spacingAndGlyphs">17</text>
<line x1="71.80" y1="502.30" x2="71.80" y2="616.65" stroke="#111" stroke-width="1.60"/>
<line x1="71.00" y1="615.80" x2="244.60" y2="615.80" stroke="#111" stroke-width="1.70"/>
<line x1="66.80" y1="506.70" x2="71.80" y2="506.70" stroke="#333" stroke-width="1.60"/>
<text x="62.80" y="510.10" font-size="9.60" text-anchor="end" fill="#222" stroke="#222" stroke-width="0.15" textLength="24.09" lengthAdjust="spacingAndGlyphs">100 %</text>
<line x1="66.80" y1="532.95" x2="71.80" y2="532.95" stroke="#333" stroke-width="1.60"/>
<text x="62.80" y="536.35" font-size="9.60" text-anchor="end" fill="#222" stroke="#222" stroke-width="0.15" textLength="19.24" lengthAdjust="spacingAndGlyphs">75 %</text>
<line x1="66.80" y1="559.20" x2="71.80" y2="559.20" stroke="#333" stroke-width="1.60"/>
<text x="62.80" y="562.60" font-size="9.60" text-anchor="end" fill="#222" stroke="#222" stroke-width="0.15" textLength="19.24" lengthAdjust="spacingAndGlyphs">50 %</text>
<line x1="66.80" y1="585.45" x2="71.80" y2="585.45" stroke="#333" stroke-width="1.60"/>
<text x="62.80" y="588.85" font-size="9.60" text-anchor="end" fill="#222" stroke="#222" stroke-width="0.15" textLength="19.24" lengthAdjust="spacingAndGlyphs">25 %</text>
<line x1="66.80" y1="611.70" x2="71.80" y2="611.70" stroke="#333" stroke-width="1.60"/>
<text x="62.80" y="615.10" font-size="9.60" text-anchor="end" fill="#222" stroke="#222" stroke-width="0.15" textLength="14.39" lengthAdjust="spacingAndGlyphs">0 %</text>
<line x1="78.20" y1="615.80" x2="78.20" y2="621.00" stroke="#333" stroke-width="1.60"/>
<text x="78.20" y="633.60" font-size="9.80" text-anchor="middle" fill="#222" stroke="#222" stroke-width="0.15" textLength="4.95" lengthAdjust="spacingAndGlyphs">0</text>
<line x1="131.40" y1="615.80" x2="131.40" y2="621.00" stroke="#333" stroke-width="1.60"/>
<text x="131.40" y="633.60" font-size="9.80" text-anchor="middle" fill="#222" stroke="#222" stroke-width="0.15" textLength="4.95" lengthAdjust="spacingAndGlyphs">1</text>
<line x1="184.60" y1="615.80" x2="184.60" y2="621.00" stroke="#333" stroke-width="1.60"/>
<text x="184.60" y="633.60" font-size="9.80" text-anchor="middle" fill="#222" stroke="#222" stroke-width="0.15" textLength="4.95" lengthAdjust="spacingAndGlyphs">2</text>
<line x1="237.80" y1="615.80" x2="237.80" y2="621.00" stroke="#333" stroke-width="1.60"/>
<text x="237.80" y="633.60" font-size="9.80" text-anchor="middle" fill="#222" stroke="#222" stroke-width="0.15" textLength="4.95" lengthAdjust="spacingAndGlyphs">3</text>
<text x="125.70" y="651.30" font-size="12.80" text-anchor="start" fill="#1a1a1a" stroke="#1a1a1a" stroke-width="0.20" textLength="64.20" lengthAdjust="spacingAndGlyphs">Time (years)</text>
<text transform="translate(26.90,611.40) rotate(-90)" x="0" y="0" font-size="13.2" fill="#1a1a1a" stroke="#1a1a1a" stroke-width="0.3" textLength="103.80" lengthAdjust="spacingAndGlyphs">Survival probability</text>
<text transform="translate(20.88,506.70) scale(0.730,1)" x="0" y="0" font-size="17.10" fill="#1a1a1a">E</text>
<text x="76.30" y="573.30" font-size="7.40" text-anchor="start" fill="#333" stroke="#333" stroke-width="0.10" textLength="15.19" lengthAdjust="spacingAndGlyphs">PAM</text>
<line x1="76.20" y1="580.50" x2="88.90" y2="580.50" stroke="#47775d" stroke-width="1.30"/>
<text x="94.00" y="583.20" font-size="7.60" text-anchor="start" fill="#333" stroke="#333" stroke-width="0.12" textLength="12.84" lengthAdjust="spacingAndGlyphs">&lt;15</text>
<line x1="76.20" y1="589.50" x2="88.90" y2="589.50" stroke="#8e88be" stroke-width="1.30"/>
<text x="94.00" y="592.20" font-size="7.60" text-anchor="start" fill="#333" stroke="#333" stroke-width="0.12" textLength="20.01" lengthAdjust="spacingAndGlyphs">15–20</text>
<line x1="76.20" y1="598.50" x2="88.90" y2="598.50" stroke="#c8307c" stroke-width="1.30"/>
<text x="94.00" y="600.90" font-size="7.60" text-anchor="start" fill="#333" stroke="#333" stroke-width="0.12" textLength="20.01" lengthAdjust="spacingAndGlyphs">20–25</text>
<line x1="76.20" y1="607.50" x2="88.90" y2="607.50" stroke="#a52a42" stroke-width="1.30"/>
<text x="94.00" y="609.90" font-size="7.60" text-anchor="start" fill="#333" stroke="#333" stroke-width="0.12" textLength="12.84" lengthAdjust="spacingAndGlyphs">25+</text>
<path d="M78.20,506.70 H80.73 V507.37 H83.27 V508.03 H85.80 V508.70 H88.40 V510.85 H91.00 V513.00 H93.33 V514.43 H95.67 V515.87 H98.00 V517.30 H100.87 V519.33 H103.73 V521.37 H106.60 V523.40 H109.50 V525.13 H112.40 V526.87 H115.30 V528.60 H118.17 V529.47 H121.03 V530.33 H123.90 V531.20 H126.80 V532.33 H129.70 V533.47 H132.60 V534.60 H135.47 V535.77 H138.33 V536.93 H141.20 V538.10 H144.10 V538.67 H147.00 V539.23 H149.90 V539.80 H152.45 V540.20 H155.00 V540.60 H157.60 V541.02 H160.20 V541.45 H162.80 V541.88 H165.40 V542.30 H167.82 V542.48 H170.24 V542.66 H172.66 V542.84 H175.08 V543.02 H177.50 V543.20 H179.76 V543.26 H182.02 V543.32 H184.28 V543.38 H186.55 V543.45 H188.81 V543.51 H191.07 V543.57 H193.33 V543.63 H195.59 V543.69 H197.85 V543.75 H200.12 V543.82 H202.38 V543.88 H204.64 V543.94 H206.90 V544.00 H210.40 V546.60 H212.87 V546.73 H215.34 V546.86 H217.81 V546.99 H220.29 V547.11 H222.76 V547.24 H225.23 V547.37 H227.70 V547.50 H231.20 V549.20 H233.50 V549.50 H235.80 V549.80 H238.10 V550.10" fill="none" stroke="#47775d" stroke-width="1.30"/>
<path d="M87.79,507.85V512.85M107.40,521.38V526.38M121.54,527.99V532.99M129.10,530.73V535.73M137.64,534.15V539.15M139.60,534.95V539.95M147.33,536.80V541.80M152.28,537.67V542.67M159.28,538.80V543.80M165.10,539.75V544.75M168.23,540.01V545.01M169.71,540.12V545.12M176.90,540.66V545.66M178.77,540.73V545.73M182.72,540.84V545.84M185.80,540.93V545.93M188.54,541.00V546.00M193.74,541.14V546.14M200.07,541.31V546.31M202.37,541.38V546.38M206.69,541.49V546.49M209.10,543.14V548.14M212.76,544.22V549.22M215.55,544.37V549.37M217.20,544.45V549.45M218.80,544.54V549.54M220.61,544.63V549.63M225.66,544.89V549.89M228.72,545.50V550.50M230.49,546.35V551.35M235.28,547.23V552.23M237.60,547.60V552.60" fill="none" stroke="#47775d" stroke-width="0.95" opacity="0.9"/>
<path d="M78.20,506.70 H80.55 V507.40 H82.90 V508.10 H85.25 V508.80 H87.60 V509.50 H89.90 V510.93 H92.20 V512.37 H94.50 V513.80 H97.40 V515.53 H100.30 V517.27 H103.20 V519.00 H105.50 V520.17 H107.80 V521.33 H110.10 V522.50 H112.97 V523.93 H115.83 V525.37 H118.70 V526.80 H121.30 V527.45 H123.90 V528.10 H126.50 V528.75 H129.10 V529.40 H132.00 V530.57 H134.90 V531.73 H137.80 V532.90 H140.67 V533.77 H143.53 V534.63 H146.40 V535.50 H149.27 V536.60 H152.13 V537.70 H155.00 V538.80 H157.60 V539.45 H160.20 V540.10 H162.80 V540.75 H165.40 V541.40 H168.00 V542.05 H170.60 V542.70 H173.20 V543.35 H175.80 V544.00 H178.40 V546.60 H181.00 V549.20 H183.25 V549.29 H185.50 V549.38 H187.75 V549.47 H190.00 V549.56 H192.25 V549.65 H194.50 V549.74 H196.75 V549.83 H199.00 V549.92 H201.25 V550.01 H203.50 V550.10 H206.90 V551.80 H209.21 V551.80 H211.52 V551.80 H213.83 V551.80 H216.14 V551.80 H218.46 V551.80 H220.77 V551.80 H223.08 V551.80 H225.39 V551.80 H227.70 V551.80 H230.30 V552.25 H232.90 V552.70 H235.50 V553.15 H238.10 V553.60" fill="none" stroke="#8e88be" stroke-width="1.30"/>
<path d="M87.79,507.12V512.12M99.06,514.03V519.03M103.64,516.72V521.72M108.59,519.23V524.23M111.91,520.90V525.90M118.05,523.98V528.98M120.97,524.87V529.87M125.33,525.96V530.96M129.66,527.12V532.12M136.72,529.97V534.97M146.04,532.89V537.89M153.44,535.70V540.70M157.83,537.01V542.01M162.07,538.07V543.07M166.92,539.28V544.28M170.61,540.20V545.20M173.94,541.03V546.03M175.44,541.41V546.41M178.27,543.97V548.97M185.26,546.87V551.87M187.02,546.94V551.94M190.92,547.10V552.10M195.42,547.28V552.28M201.06,547.50V552.50M203.12,547.58V552.58M205.43,548.57V553.57M207.60,549.30V554.30M210.50,549.30V554.30M213.57,549.30V554.30M219.06,549.30V554.30M223.88,549.30V554.30M228.69,549.47V554.47M229.58,549.62V554.62M230.50,549.79V554.79M234.42,550.46V555.46M237.60,551.10V556.10" fill="none" stroke="#8e88be" stroke-width="0.95" opacity="0.9"/>
<path d="M78.20,506.70 H80.70 V513.80 H84.10 V517.30 H86.70 V519.90 H89.30 V522.50 H91.90 V524.25 H94.50 V526.00 H96.80 V527.43 H99.10 V528.87 H101.40 V530.30 H103.70 V531.73 H106.00 V533.17 H108.30 V534.60 H111.80 V539.80 H114.40 V542.40 H117.00 V545.00 H119.30 V546.43 H121.60 V547.87 H123.90 V549.30 H126.50 V550.60 H129.10 V551.90 H131.70 V553.20 H134.30 V554.50 H136.90 V554.92 H139.50 V555.35 H142.10 V555.78 H144.70 V556.20 H147.27 V556.40 H149.85 V556.60 H152.43 V556.80 H155.00 V557.00 H157.30 V558.17 H159.60 V559.33 H161.90 V560.50 H164.29 V560.71 H166.68 V560.92 H169.06 V561.14 H171.45 V561.35 H173.84 V561.56 H176.22 V561.78 H178.61 V561.99 H181.00 V562.20 H183.87 V562.97 H186.73 V563.73 H189.60 V564.50 H191.80 V564.51 H194.01 V564.53 H196.21 V564.54 H198.42 V564.55 H200.62 V564.57 H202.83 V564.58 H205.03 V564.60 H207.24 V564.61 H209.44 V564.62 H211.65 V564.64 H213.85 V564.65 H216.05 V564.66 H218.26 V564.68 H220.46 V564.69 H222.67 V564.70 H224.87 V564.72 H227.08 V564.73 H229.28 V564.75 H231.49 V564.76 H233.69 V564.77 H235.90 V564.79 H238.10 V564.80" fill="none" stroke="#c8307c" stroke-width="1.30"/>
<path d="M87.79,518.49V523.49M99.48,526.60V531.60M110.46,535.31V540.31M112.60,538.10V543.10M119.26,543.91V548.91M131.10,550.40V555.40M140.43,553.00V558.00M149.14,554.04V559.04M158.05,556.05V561.05M161.09,557.59V562.59M163.08,558.11V563.11M165.36,558.31V563.31M170.07,558.73V563.73M175.64,559.22V564.22M182.61,560.13V565.13M187.92,561.55V566.55M192.62,562.02V567.02M197.82,562.05V567.05M201.21,562.07V567.07M205.02,562.10V567.10M206.12,562.10V567.10M210.99,562.13V567.13M213.00,562.14V567.14M218.34,562.18V567.18M222.23,562.20V567.20M224.45,562.22V567.22M225.84,562.22V567.22M227.78,562.24V567.24M231.42,562.26V567.26M235.27,562.28V567.28M236.52,562.29V567.29M237.60,562.30V567.30" fill="none" stroke="#c8307c" stroke-width="0.95" opacity="0.9"/>
<path d="M78.20,506.70 H80.70 V513.80 H83.25 V517.30 H85.80 V520.80 H88.40 V525.55 H91.00 V530.30 H93.33 V533.47 H95.67 V536.63 H98.00 V539.80 H100.30 V542.70 H102.60 V545.60 H104.90 V548.50 H107.20 V550.80 H109.50 V553.10 H111.80 V555.40 H114.10 V557.13 H116.40 V558.87 H118.70 V560.60 H121.60 V562.03 H124.50 V563.47 H127.40 V564.90 H130.27 V565.77 H133.13 V566.63 H136.00 V567.50 H138.90 V568.07 H141.80 V568.63 H144.70 V569.20 H147.27 V570.05 H149.85 V570.90 H152.43 V571.75 H155.00 V572.60 H157.60 V573.02 H160.20 V573.45 H162.80 V573.88 H165.40 V574.30 H168.00 V574.52 H170.60 V574.75 H173.20 V574.98 H175.80 V575.20 H178.04 V575.20 H180.27 V575.20 H182.51 V575.20 H184.74 V575.20 H186.98 V575.20 H189.21 V575.20 H191.45 V575.20 H193.68 V575.20 H195.92 V575.20 H198.15 V575.20 H200.39 V575.20 H202.62 V575.20 H204.86 V575.20 H207.09 V575.20 H209.33 V575.20 H211.56 V575.20 H213.80 V575.20 H216.13 V575.77 H218.47 V576.33 H220.80 V576.90 H223.67 V576.90 H226.53 V576.90 H229.40 V576.90 H232.00 V580.40 H235.05 V580.40 H238.10 V580.40" fill="none" stroke="#a52a42" stroke-width="1.30"/>
<path d="M87.79,521.94V526.94M100.40,540.33V545.33M111.15,552.25V557.25M117.91,557.50V562.50M122.28,559.87V564.87M130.31,563.28V568.28M132.06,563.81V568.81M136.47,565.09V570.09M142.07,566.19V571.19M151.49,568.94V573.94M157.73,570.55V575.55M165.34,571.79V576.79M169.74,572.18V577.18M172.41,572.41V577.41M175.12,572.64V577.64M182.22,572.70V577.70M187.45,572.70V577.70M190.22,572.70V577.70M191.34,572.70V577.70M195.10,572.70V577.70M199.73,572.70V577.70M202.87,572.70V577.70M205.12,572.70V577.70M209.43,572.70V577.70M214.91,572.97V577.97M216.85,573.44V578.44M217.85,573.68V578.68M220.29,574.28V579.28M223.08,574.40V579.40M227.03,574.40V579.40M228.72,574.40V579.40M233.07,577.90V582.90M237.06,577.90V582.90M237.60,577.90V582.90" fill="none" stroke="#a52a42" stroke-width="0.95" opacity="0.9"/>
<text x="64.40" y="665.40" font-size="10.20" text-anchor="end" fill="#1a1a1a" stroke="#1a1a1a" stroke-width="0.20" textLength="27.04" lengthAdjust="spacingAndGlyphs">At risk:</text>
<text x="64.40" y="677.30" font-size="10.20" text-anchor="end" fill="#1a1a1a" stroke="#1a1a1a" stroke-width="0.20" textLength="17.20" lengthAdjust="spacingAndGlyphs">&lt;15:</text>
<text x="78.20" y="677.30" font-size="10.20" text-anchor="middle" fill="#47775d" textLength="14.11" lengthAdjust="spacingAndGlyphs">138</text>
<text x="131.40" y="677.30" font-size="10.20" text-anchor="middle" fill="#47775d" textLength="9.41" lengthAdjust="spacingAndGlyphs">96</text>
<text x="184.60" y="677.30" font-size="10.20" text-anchor="middle" fill="#47775d" textLength="9.41" lengthAdjust="spacingAndGlyphs">59</text>
<text x="237.80" y="677.30" font-size="10.20" text-anchor="middle" fill="#47775d" textLength="9.41" lengthAdjust="spacingAndGlyphs">34</text>
<text x="64.40" y="688.55" font-size="10.20" text-anchor="end" fill="#1a1a1a" stroke="#1a1a1a" stroke-width="0.20" textLength="25.68" lengthAdjust="spacingAndGlyphs">15–20:</text>
<text x="78.20" y="688.55" font-size="10.20" text-anchor="middle" fill="#8e88be" textLength="14.11" lengthAdjust="spacingAndGlyphs">138</text>
<text x="131.40" y="688.55" font-size="10.20" text-anchor="middle" fill="#8e88be" textLength="9.41" lengthAdjust="spacingAndGlyphs">99</text>
<text x="184.60" y="688.55" font-size="10.20" text-anchor="middle" fill="#8e88be" textLength="9.41" lengthAdjust="spacingAndGlyphs">51</text>
<text x="237.80" y="688.55" font-size="10.20" text-anchor="middle" fill="#8e88be" textLength="9.41" lengthAdjust="spacingAndGlyphs">19</text>
<text x="64.40" y="699.80" font-size="10.20" text-anchor="end" fill="#1a1a1a" stroke="#1a1a1a" stroke-width="0.20" textLength="25.68" lengthAdjust="spacingAndGlyphs">20–25:</text>
<text x="78.20" y="699.80" font-size="10.20" text-anchor="middle" fill="#c8307c" textLength="14.11" lengthAdjust="spacingAndGlyphs">123</text>
<text x="131.40" y="699.80" font-size="10.20" text-anchor="middle" fill="#c8307c" textLength="9.41" lengthAdjust="spacingAndGlyphs">59</text>
<text x="184.60" y="699.80" font-size="10.20" text-anchor="middle" fill="#c8307c" textLength="9.41" lengthAdjust="spacingAndGlyphs">39</text>
<text x="237.80" y="699.80" font-size="10.20" text-anchor="middle" fill="#c8307c" textLength="9.41" lengthAdjust="spacingAndGlyphs">24</text>
<text x="64.40" y="711.05" font-size="10.20" text-anchor="end" fill="#1a1a1a" stroke="#1a1a1a" stroke-width="0.20" textLength="17.20" lengthAdjust="spacingAndGlyphs">25+:</text>
<text x="78.20" y="711.05" font-size="10.20" text-anchor="middle" fill="#a52a42" textLength="14.11" lengthAdjust="spacingAndGlyphs">129</text>
<text x="131.40" y="711.05" font-size="10.20" text-anchor="middle" fill="#a52a42" textLength="9.41" lengthAdjust="spacingAndGlyphs">55</text>
<text x="184.60" y="711.05" font-size="10.20" text-anchor="middle" fill="#a52a42" textLength="9.41" lengthAdjust="spacingAndGlyphs">33</text>
<text x="237.80" y="711.05" font-size="10.20" text-anchor="middle" fill="#a52a42" textLength="9.41" lengthAdjust="spacingAndGlyphs">17</text>
<line x1="336.70" y1="502.50" x2="336.70" y2="616.65" stroke="#111" stroke-width="1.35"/>
<line x1="336.02" y1="615.90" x2="509.60" y2="615.90" stroke="#111" stroke-width="1.50"/>
<line x1="331.70" y1="506.70" x2="336.70" y2="506.70" stroke="#333" stroke-width="1.60"/>
<text x="327.30" y="510.10" font-size="9.60" text-anchor="end" fill="#222" stroke="#222" stroke-width="0.15" textLength="23.37" lengthAdjust="spacingAndGlyphs">100 %</text>
<line x1="331.70" y1="533.00" x2="336.70" y2="533.00" stroke="#333" stroke-width="1.60"/>
<text x="327.30" y="536.40" font-size="9.60" text-anchor="end" fill="#222" stroke="#222" stroke-width="0.15" textLength="18.66" lengthAdjust="spacingAndGlyphs">75 %</text>
<line x1="331.70" y1="559.30" x2="336.70" y2="559.30" stroke="#333" stroke-width="1.60"/>
<text x="327.30" y="562.70" font-size="9.60" text-anchor="end" fill="#222" stroke="#222" stroke-width="0.15" textLength="18.66" lengthAdjust="spacingAndGlyphs">50 %</text>
<line x1="331.70" y1="585.60" x2="336.70" y2="585.60" stroke="#333" stroke-width="1.60"/>
<text x="327.30" y="589.00" font-size="9.60" text-anchor="end" fill="#222" stroke="#222" stroke-width="0.15" textLength="18.66" lengthAdjust="spacingAndGlyphs">25 %</text>
<line x1="331.70" y1="611.90" x2="336.70" y2="611.90" stroke="#333" stroke-width="1.60"/>
<text x="327.30" y="615.30" font-size="9.60" text-anchor="end" fill="#222" stroke="#222" stroke-width="0.15" textLength="13.96" lengthAdjust="spacingAndGlyphs">0 %</text>
<line x1="343.10" y1="615.90" x2="343.10" y2="621.10" stroke="#333" stroke-width="1.60"/>
<text x="343.10" y="633.70" font-size="9.80" text-anchor="middle" fill="#222" stroke="#222" stroke-width="0.15" textLength="4.95" lengthAdjust="spacingAndGlyphs">0</text>
<line x1="396.43" y1="615.90" x2="396.43" y2="621.10" stroke="#333" stroke-width="1.60"/>
<text x="396.43" y="633.70" font-size="9.80" text-anchor="middle" fill="#222" stroke="#222" stroke-width="0.15" textLength="4.95" lengthAdjust="spacingAndGlyphs">1</text>
<line x1="449.77" y1="615.90" x2="449.77" y2="621.10" stroke="#333" stroke-width="1.60"/>
<text x="449.77" y="633.70" font-size="9.80" text-anchor="middle" fill="#222" stroke="#222" stroke-width="0.15" textLength="4.95" lengthAdjust="spacingAndGlyphs">2</text>
<line x1="503.10" y1="615.90" x2="503.10" y2="621.10" stroke="#333" stroke-width="1.60"/>
<text x="503.10" y="633.70" font-size="9.80" text-anchor="middle" fill="#222" stroke="#222" stroke-width="0.15" textLength="4.95" lengthAdjust="spacingAndGlyphs">3</text>
<text x="390.20" y="651.40" font-size="12.80" text-anchor="start" fill="#1a1a1a" stroke="#1a1a1a" stroke-width="0.20" textLength="65.20" lengthAdjust="spacingAndGlyphs">Time (years)</text>
<text transform="translate(288.80,611.40) rotate(-90)" x="0" y="0" font-size="13.2" fill="#1a1a1a" stroke="#1a1a1a" stroke-width="0.3" textLength="103.80" lengthAdjust="spacingAndGlyphs">Survival probability</text>
<text transform="translate(280.92,506.60) scale(0.700,1)" x="0" y="0" font-size="17.10" fill="#1a1a1a">F</text>
<text x="341.10" y="574.10" font-size="7.40" text-anchor="start" fill="#333" stroke="#333" stroke-width="0.10" textLength="17.75" lengthAdjust="spacingAndGlyphs">rPAM</text>
<line x1="341.10" y1="580.50" x2="354.10" y2="580.50" stroke="#47775d" stroke-width="1.30"/>
<text x="359.00" y="583.20" font-size="7.10" text-anchor="start" fill="#333" stroke="#333" stroke-width="0.12" textLength="18.52" lengthAdjust="spacingAndGlyphs">&lt;12.3</text>
<line x1="341.10" y1="589.50" x2="354.10" y2="589.50" stroke="#8e88be" stroke-width="1.30"/>
<text x="359.00" y="592.40" font-size="7.10" text-anchor="start" fill="#333" stroke="#333" stroke-width="0.12" textLength="31.36" lengthAdjust="spacingAndGlyphs">12.3–16.5</text>
<line x1="341.10" y1="598.50" x2="354.10" y2="598.50" stroke="#c8307c" stroke-width="1.30"/>
<text x="359.00" y="600.90" font-size="7.10" text-anchor="start" fill="#333" stroke="#333" stroke-width="0.12" textLength="31.36" lengthAdjust="spacingAndGlyphs">16.6–21.9</text>
<line x1="341.10" y1="607.50" x2="354.10" y2="607.50" stroke="#a52a42" stroke-width="1.30"/>
<text x="359.00" y="609.90" font-size="7.10" text-anchor="start" fill="#333" stroke="#333" stroke-width="0.12" textLength="18.52" lengthAdjust="spacingAndGlyphs">&gt;21.9</text>
<path d="M343.10,506.70 H347.40 V509.50 H350.27 V509.80 H353.13 V510.10 H356.00 V510.40 H358.90 V511.53 H361.80 V512.67 H364.70 V513.80 H367.00 V514.97 H369.30 V516.13 H371.60 V517.30 H374.50 V518.73 H377.40 V520.17 H380.30 V521.60 H383.17 V522.47 H386.03 V523.33 H388.90 V524.20 H391.80 V524.80 H394.70 V525.40 H397.60 V526.00 H400.47 V526.27 H403.33 V526.53 H406.20 V526.80 H408.80 V527.25 H411.40 V527.70 H414.00 V528.15 H416.60 V528.60 H420.00 V530.40 H422.90 V530.97 H425.80 V531.53 H428.70 V532.10 H431.57 V532.67 H434.43 V533.23 H437.30 V533.80 H440.20 V534.40 H443.10 V535.00 H446.00 V535.60 H448.60 V536.90 H451.20 V538.20 H453.44 V538.20 H455.67 V538.20 H457.91 V538.20 H460.14 V538.20 H462.38 V538.20 H464.61 V538.20 H466.85 V538.20 H469.08 V538.20 H471.32 V538.20 H473.55 V538.20 H475.79 V538.20 H478.02 V538.20 H480.26 V538.20 H482.49 V538.20 H484.73 V538.20 H486.96 V538.20 H489.20 V538.20 H491.80 V539.90 H494.40 V541.60 H497.90 V544.20 H500.50 V544.20 H503.10 V544.20" fill="none" stroke="#47775d" stroke-width="1.30"/>
<path d="M352.70,507.55V512.55M359.57,509.29V514.29M377.54,517.73V522.73M383.26,520.00V525.00M394.08,522.77V527.77M397.96,523.53V528.53M401.59,523.87V528.87M409.81,524.92V529.92M413.61,525.58V530.58M422.40,528.37V533.37M427.24,529.32V534.32M429.76,529.81V534.81M432.47,530.34V535.34M436.40,531.12V536.12M441.81,532.23V537.23M448.75,534.48V539.48M450.65,535.42V540.42M453.95,535.70V540.70M456.15,535.70V540.70M462.58,535.70V540.70M464.28,535.70V540.70M465.49,535.70V540.70M466.73,535.70V540.70M469.70,535.70V540.70M475.20,535.70V540.70M480.45,535.70V540.70M484.82,535.70V540.70M490.32,536.43V541.43M495.35,539.81V544.81M497.59,541.47V546.47M499.17,541.70V546.70M502.60,541.70V546.70" fill="none" stroke="#47775d" stroke-width="0.95" opacity="0.9"/>
<path d="M343.10,506.70 H346.10 V509.40 H349.10 V512.10 H351.70 V514.70 H354.30 V517.30 H357.20 V518.17 H360.10 V519.03 H363.00 V519.90 H365.87 V520.47 H368.73 V521.03 H371.60 V521.60 H374.20 V525.50 H376.80 V529.40 H379.40 V530.70 H382.00 V532.00 H384.30 V532.87 H386.60 V533.73 H388.90 V534.60 H391.80 V535.47 H394.70 V536.33 H397.60 V537.20 H400.47 V538.37 H403.33 V539.53 H406.20 V540.70 H409.10 V541.27 H412.00 V541.83 H414.90 V542.40 H417.45 V543.30 H420.00 V544.20 H422.30 V544.50 H424.60 V544.80 H426.90 V545.10 H429.20 V545.40 H431.50 V545.70 H433.80 V546.00 H436.24 V546.16 H438.68 V546.32 H441.12 V546.48 H443.56 V546.64 H446.00 V546.80 H448.35 V546.80 H450.71 V546.80 H453.06 V546.80 H455.42 V546.80 H457.77 V546.80 H460.13 V546.80 H462.48 V546.80 H464.84 V546.80 H467.19 V546.80 H469.55 V546.80 H471.90 V546.80 H475.40 V549.40 H477.70 V549.40 H480.00 V549.40 H482.30 V549.40 H484.60 V549.40 H486.90 V549.40 H489.20 V549.40 H491.50 V549.40 H493.80 V549.40 H496.10 V549.40 H497.90 V552.00 H500.50 V552.45 H503.10 V552.90" fill="none" stroke="#8e88be" stroke-width="1.30"/>
<path d="M352.70,513.20V518.20M369.30,518.65V523.65M372.06,519.79V524.79M382.74,529.78V534.78M388.81,532.07V537.07M394.39,533.74V538.74M399.21,535.35V540.35M402.32,536.62V541.62M403.88,537.26V542.26M407.79,538.51V543.51M412.14,539.36V544.36M421.08,541.84V546.84M423.26,542.13V547.13M431.42,543.19V548.19M433.98,543.51V548.51M437.47,543.74V548.74M443.84,544.16V549.16M449.91,544.30V549.30M453.45,544.30V549.30M454.73,544.30V549.30M458.40,544.30V549.30M461.42,544.30V549.30M467.32,544.30V549.30M469.24,544.30V549.30M472.02,544.39V549.39M477.44,546.90V551.90M478.45,546.90V551.90M481.30,546.90V551.90M486.02,546.90V551.90M490.41,546.90V551.90M491.40,546.90V551.90M492.35,546.90V551.90M493.43,546.90V551.90M498.33,549.57V554.57M500.22,549.90V554.90M502.60,550.40V555.40" fill="none" stroke="#8e88be" stroke-width="0.95" opacity="0.9"/>
<path d="M343.10,506.70 H346.10 V509.85 H349.10 V513.00 H351.70 V515.15 H354.30 V517.30 H357.80 V522.50 H361.20 V530.30 H363.80 V532.45 H366.40 V534.60 H369.00 V537.65 H371.60 V540.70 H374.20 V543.30 H376.80 V545.90 H379.40 V548.90 H382.00 V551.90 H384.30 V552.77 H386.60 V553.63 H388.90 V554.50 H391.32 V555.20 H393.74 V555.90 H396.16 V556.60 H398.58 V557.30 H401.00 V558.00 H403.90 V558.57 H406.80 V559.13 H409.70 V559.70 H412.27 V559.95 H414.85 V560.20 H417.43 V560.45 H420.00 V560.70 H422.30 V561.27 H424.60 V561.83 H426.90 V562.40 H429.80 V562.97 H432.70 V563.53 H435.60 V564.10 H439.00 V566.70 H441.32 V566.85 H443.63 V567.00 H445.95 V567.15 H448.27 V567.30 H450.58 V567.45 H452.90 V567.60 H454.60 V568.50 H456.83 V568.61 H459.06 V568.73 H461.29 V568.84 H463.51 V568.96 H465.74 V569.07 H467.97 V569.19 H470.20 V569.30 H471.90 V571.10 H474.22 V571.10 H476.53 V571.10 H478.85 V571.10 H481.17 V571.10 H483.48 V571.10 H485.80 V571.10 H489.20 V571.90 H491.52 V571.90 H493.83 V571.90 H496.15 V571.90 H498.47 V571.90 H500.78 V571.90 H503.10 V571.90" fill="none" stroke="#c8307c" stroke-width="1.30"/>
<path d="M352.70,513.48V518.48M372.04,538.64V543.64M378.59,545.47V550.47M383.78,550.07V555.07M396.01,554.06V559.06M403.40,555.97V560.97M407.18,556.71V561.71M414.58,557.67V562.67M418.38,558.04V563.04M421.76,558.63V563.63M423.06,558.95V563.95M429.74,560.45V565.45M437.14,562.78V567.78M442.32,564.41V569.41M449.20,564.86V569.86M450.38,564.94V569.94M452.76,565.09V570.09M456.48,566.10V571.10M462.79,566.42V571.42M468.83,566.73V571.73M471.73,568.42V573.42M473.89,568.60V573.60M476.91,568.60V573.60M480.20,568.60V573.60M485.51,568.60V573.60M487.19,568.93V573.93M491.71,569.40V574.40M495.84,569.40V574.40M500.25,569.40V574.40M502.60,569.40V574.40" fill="none" stroke="#c8307c" stroke-width="0.95" opacity="0.9"/>
<path d="M343.10,506.70 H345.70 V513.80 H349.10 V522.50 H351.70 V525.95 H354.30 V529.40 H356.60 V531.43 H358.90 V533.47 H361.20 V535.50 H363.80 V538.50 H366.40 V541.50 H368.70 V544.10 H371.00 V546.70 H373.30 V549.30 H376.20 V550.77 H379.10 V552.23 H382.00 V553.70 H384.30 V555.40 H386.60 V557.10 H388.90 V558.80 H391.80 V560.27 H394.70 V561.73 H397.60 V563.20 H400.47 V564.63 H403.33 V566.07 H406.20 V567.50 H409.10 V568.37 H412.00 V569.23 H414.90 V570.10 H417.45 V570.60 H420.00 V571.10 H422.30 V571.97 H424.60 V572.83 H426.90 V573.70 H429.50 V573.90 H432.10 V574.10 H434.70 V574.30 H437.30 V574.50 H439.50 V574.50 H441.71 V574.50 H443.91 V574.50 H446.12 V574.50 H448.32 V574.50 H450.53 V574.50 H452.73 V574.50 H454.94 V574.50 H457.14 V574.50 H459.35 V574.50 H461.55 V574.50 H463.75 V574.50 H465.96 V574.50 H468.16 V574.50 H470.37 V574.50 H472.57 V574.50 H474.78 V574.50 H476.98 V574.50 H479.19 V574.50 H481.39 V574.50 H483.60 V574.50 H485.80 V574.50 H488.38 V574.73 H490.95 V574.95 H493.53 V575.17 H496.10 V575.40 H497.00 V576.20 H500.05 V576.20 H503.10 V576.20" fill="none" stroke="#a52a42" stroke-width="1.30"/>
<path d="M352.70,524.78V529.78M366.80,539.45V544.45M373.76,547.03V552.03M379.90,550.14V555.14M386.01,554.17V559.17M396.06,559.92V564.92M398.44,561.12V566.12M401.83,562.82V567.82M409.96,566.13V571.13M413.38,567.15V572.15M415.26,567.67V572.67M416.88,567.99V572.99M422.39,569.50V574.50M426.01,570.86V575.86M434.09,571.75V576.75M441.02,572.00V577.00M448.25,572.00V577.00M450.85,572.00V577.00M452.36,572.00V577.00M453.92,572.00V577.00M457.74,572.00V577.00M462.63,572.00V577.00M465.97,572.00V577.00M468.12,572.00V577.00M471.19,572.00V577.00M475.23,572.00V577.00M479.44,572.00V577.00M483.90,572.00V577.00M488.72,572.26V577.26M492.58,572.59V577.59M493.92,572.71V577.71M498.45,573.70V578.70M500.50,573.70V578.70M502.60,573.70V578.70" fill="none" stroke="#a52a42" stroke-width="0.95" opacity="0.9"/>
<text x="329.40" y="665.80" font-size="10.20" text-anchor="end" fill="#1a1a1a" stroke="#1a1a1a" stroke-width="0.20" textLength="27.04" lengthAdjust="spacingAndGlyphs">At risk:</text>
<text x="329.40" y="677.30" font-size="10.20" text-anchor="end" fill="#1a1a1a" stroke="#1a1a1a" stroke-width="0.20" textLength="23.91" lengthAdjust="spacingAndGlyphs">&lt;12.3:</text>
<text x="343.10" y="677.30" font-size="10.20" text-anchor="middle" fill="#47775d" textLength="14.11" lengthAdjust="spacingAndGlyphs">136</text>
<text x="396.43" y="677.30" font-size="10.20" text-anchor="middle" fill="#47775d" textLength="14.11" lengthAdjust="spacingAndGlyphs">108</text>
<text x="449.77" y="677.30" font-size="10.20" text-anchor="middle" fill="#47775d" textLength="9.41" lengthAdjust="spacingAndGlyphs">67</text>
<text x="503.10" y="677.30" font-size="10.20" text-anchor="middle" fill="#47775d" textLength="9.41" lengthAdjust="spacingAndGlyphs">38</text>
<text x="329.40" y="688.47" font-size="10.20" text-anchor="end" fill="#1a1a1a" stroke="#1a1a1a" stroke-width="0.20" textLength="39.10" lengthAdjust="spacingAndGlyphs">12.3–16.5:</text>
<text x="343.10" y="688.47" font-size="10.20" text-anchor="middle" fill="#8e88be" textLength="14.11" lengthAdjust="spacingAndGlyphs">112</text>
<text x="396.43" y="688.47" font-size="10.20" text-anchor="middle" fill="#8e88be" textLength="9.41" lengthAdjust="spacingAndGlyphs">75</text>
<text x="449.77" y="688.47" font-size="10.20" text-anchor="middle" fill="#8e88be" textLength="9.41" lengthAdjust="spacingAndGlyphs">45</text>
<text x="503.10" y="688.47" font-size="10.20" text-anchor="middle" fill="#8e88be" textLength="9.41" lengthAdjust="spacingAndGlyphs">17</text>
<text x="329.40" y="699.64" font-size="10.20" text-anchor="end" fill="#1a1a1a" stroke="#1a1a1a" stroke-width="0.20" textLength="39.10" lengthAdjust="spacingAndGlyphs">16.6–21.9:</text>
<text x="343.10" y="699.64" font-size="10.20" text-anchor="middle" fill="#c8307c" textLength="14.11" lengthAdjust="spacingAndGlyphs">119</text>
<text x="396.43" y="699.64" font-size="10.20" text-anchor="middle" fill="#c8307c" textLength="9.41" lengthAdjust="spacingAndGlyphs">58</text>
<text x="449.77" y="699.64" font-size="10.20" text-anchor="middle" fill="#c8307c" textLength="9.41" lengthAdjust="spacingAndGlyphs">33</text>
<text x="503.10" y="699.64" font-size="10.20" text-anchor="middle" fill="#c8307c" textLength="9.41" lengthAdjust="spacingAndGlyphs">20</text>
<text x="329.40" y="710.81" font-size="10.20" text-anchor="end" fill="#1a1a1a" stroke="#1a1a1a" stroke-width="0.20" textLength="23.91" lengthAdjust="spacingAndGlyphs">&gt;21.9:</text>
<text x="343.10" y="710.81" font-size="10.20" text-anchor="middle" fill="#a52a42" textLength="14.11" lengthAdjust="spacingAndGlyphs">123</text>
<text x="396.43" y="710.81" font-size="10.20" text-anchor="middle" fill="#a52a42" textLength="9.41" lengthAdjust="spacingAndGlyphs">51</text>
<text x="449.77" y="710.81" font-size="10.20" text-anchor="middle" fill="#a52a42" textLength="9.41" lengthAdjust="spacingAndGlyphs">26</text>
<text x="503.10" y="710.81" font-size="10.20" text-anchor="middle" fill="#a52a42" textLength="9.41" lengthAdjust="spacingAndGlyphs">14</text>
<line x1="71.80" y1="737.50" x2="71.80" y2="851.70" stroke="#111" stroke-width="1.60"/>
<line x1="71.00" y1="850.80" x2="244.60" y2="850.80" stroke="#111" stroke-width="1.80"/>
<line x1="66.80" y1="741.50" x2="71.80" y2="741.50" stroke="#333" stroke-width="1.60"/>
<text x="62.80" y="744.90" font-size="9.60" text-anchor="end" fill="#222" stroke="#222" stroke-width="0.15" textLength="24.09" lengthAdjust="spacingAndGlyphs">100 %</text>
<line x1="66.80" y1="767.83" x2="71.80" y2="767.83" stroke="#333" stroke-width="1.60"/>
<text x="62.80" y="771.23" font-size="9.60" text-anchor="end" fill="#222" stroke="#222" stroke-width="0.15" textLength="19.24" lengthAdjust="spacingAndGlyphs">75 %</text>
<line x1="66.80" y1="794.15" x2="71.80" y2="794.15" stroke="#333" stroke-width="1.60"/>
<text x="62.80" y="797.55" font-size="9.60" text-anchor="end" fill="#222" stroke="#222" stroke-width="0.15" textLength="19.24" lengthAdjust="spacingAndGlyphs">50 %</text>
<line x1="66.80" y1="820.47" x2="71.80" y2="820.47" stroke="#333" stroke-width="1.60"/>
<text x="62.80" y="823.87" font-size="9.60" text-anchor="end" fill="#222" stroke="#222" stroke-width="0.15" textLength="19.24" lengthAdjust="spacingAndGlyphs">25 %</text>
<line x1="66.80" y1="846.80" x2="71.80" y2="846.80" stroke="#333" stroke-width="1.60"/>
<text x="62.80" y="850.20" font-size="9.60" text-anchor="end" fill="#222" stroke="#222" stroke-width="0.15" textLength="14.39" lengthAdjust="spacingAndGlyphs">0 %</text>
<line x1="78.20" y1="850.80" x2="78.20" y2="856.00" stroke="#333" stroke-width="1.60"/>
<text x="78.20" y="868.90" font-size="9.80" text-anchor="middle" fill="#222" stroke="#222" stroke-width="0.15" textLength="4.95" lengthAdjust="spacingAndGlyphs">0</text>
<line x1="131.40" y1="850.80" x2="131.40" y2="856.00" stroke="#333" stroke-width="1.60"/>
<text x="131.40" y="868.90" font-size="9.80" text-anchor="middle" fill="#222" stroke="#222" stroke-width="0.15" textLength="4.95" lengthAdjust="spacingAndGlyphs">1</text>
<line x1="184.60" y1="850.80" x2="184.60" y2="856.00" stroke="#333" stroke-width="1.60"/>
<text x="184.60" y="868.90" font-size="9.80" text-anchor="middle" fill="#222" stroke="#222" stroke-width="0.15" textLength="4.95" lengthAdjust="spacingAndGlyphs">2</text>
<line x1="237.80" y1="850.80" x2="237.80" y2="856.00" stroke="#333" stroke-width="1.60"/>
<text x="237.80" y="868.90" font-size="9.80" text-anchor="middle" fill="#222" stroke="#222" stroke-width="0.15" textLength="4.95" lengthAdjust="spacingAndGlyphs">3</text>
<text x="125.00" y="886.00" font-size="12.80" text-anchor="start" fill="#1a1a1a" stroke="#1a1a1a" stroke-width="0.20" textLength="65.10" lengthAdjust="spacingAndGlyphs">Time (years)</text>
<text transform="translate(26.90,846.10) rotate(-90)" x="0" y="0" font-size="13.2" fill="#1a1a1a" stroke="#1a1a1a" stroke-width="0.3" textLength="103.50" lengthAdjust="spacingAndGlyphs">Survival probability</text>
<text transform="translate(19.44,742.40) scale(0.890,1)" x="0" y="0" font-size="17.10" fill="#1a1a1a">G</text>
<text x="76.50" y="808.10" font-size="7.40" text-anchor="start" fill="#333" stroke="#333" stroke-width="0.10" textLength="13.81" lengthAdjust="spacingAndGlyphs">rDRI</text>
<line x1="76.10" y1="814.50" x2="89.10" y2="814.50" stroke="#47775d" stroke-width="1.30"/>
<text x="94.00" y="817.60" font-size="7.70" text-anchor="start" fill="#333" stroke="#333" stroke-width="0.12" textLength="12.42" lengthAdjust="spacingAndGlyphs">Low</text>
<line x1="76.10" y1="823.50" x2="89.10" y2="823.50" stroke="#8e88be" stroke-width="1.30"/>
<text x="94.00" y="826.60" font-size="7.70" text-anchor="start" fill="#333" stroke="#333" stroke-width="0.12" textLength="44.28" lengthAdjust="spacingAndGlyphs">Intermediate</text>
<line x1="76.10" y1="832.50" x2="89.10" y2="832.50" stroke="#c8307c" stroke-width="1.30"/>
<text x="94.00" y="835.50" font-size="7.70" text-anchor="start" fill="#333" stroke="#333" stroke-width="0.12" textLength="16.40" lengthAdjust="spacingAndGlyphs">High</text>
<line x1="76.10" y1="841.50" x2="89.10" y2="841.50" stroke="#a52a42" stroke-width="1.30"/>
<text x="94.00" y="844.30" font-size="7.70" text-anchor="start" fill="#333" stroke="#333" stroke-width="0.12" textLength="32.87" lengthAdjust="spacingAndGlyphs">Very high</text>
<path d="M78.20,741.50 H81.80 V741.50 H81.80 V745.20 H84.67 V745.20 H87.53 V745.20 H90.40 V745.20 H90.40 V748.10 H93.80 V748.10 H93.80 V752.40 H96.08 V752.40 H98.35 V752.40 H100.62 V752.40 H102.90 V752.40 H102.90 V755.80 H105.18 V755.80 H107.46 V755.80 H109.74 V755.80 H112.02 V755.80 H114.30 V755.80 H116.58 V755.80 H118.85 V755.80 H121.13 V755.80 H123.41 V755.80 H125.69 V755.80 H127.97 V755.80 H130.25 V755.80 H132.53 V755.80 H134.81 V755.80 H137.09 V755.80 H139.37 V755.80 H141.65 V755.80 H143.93 V755.80 H146.20 V755.80 H148.48 V755.80 H150.76 V755.80 H153.04 V755.80 H155.32 V755.80 H157.60 V755.80 H157.60 V760.80 H160.47 V760.80 H163.33 V760.80 H166.20 V760.80 H166.20 V765.10 H168.52 V765.10 H170.83 V765.10 H173.15 V765.10 H175.47 V765.10 H177.78 V765.10 H180.10 V765.10 H181.00 V768.60 H184.40 V771.20 H186.20 V775.50 H188.41 V775.50 H190.62 V775.50 H192.83 V775.50 H195.04 V775.50 H197.26 V775.50 H199.47 V775.50 H201.68 V775.50 H203.89 V775.50 H206.10 V775.50 H208.31 V775.50 H210.52 V775.50 H212.73 V775.50 H214.94 V775.50 H217.16 V775.50 H219.37 V775.50 H221.58 V775.50 H223.79 V775.50 H226.00 V775.50 H226.00 V783.30 H229.40 V784.10 H229.40 V792.80 H232.30 V792.80 H235.20 V792.80 H238.10 V792.80" fill="none" stroke="#47775d" stroke-width="1.30"/>
<path d="M87.79,742.70V747.70M120.74,753.30V758.30M152.84,753.30V758.30M162.23,758.30V763.30M172.00,762.60V767.60M181.00,766.09V771.09M187.58,773.00V778.00M207.79,773.00V778.00M220.43,773.00V778.00M228.26,781.33V786.33M236.80,790.30V795.30M237.60,790.30V795.30" fill="none" stroke="#47775d" stroke-width="0.95" opacity="0.9"/>
<path d="M78.20,741.50 H81.80 V747.10 H85.60 V747.60 H88.00 V748.80 H90.40 V750.00 H92.80 V751.20 H95.20 V752.40 H97.60 V753.35 H100.00 V754.30 H102.27 V755.27 H104.53 V756.23 H106.80 V757.20 H110.60 V761.10 H114.50 V765.90 H116.90 V766.85 H119.30 V767.80 H121.53 V768.77 H123.77 V769.73 H126.00 V770.70 H128.77 V771.50 H131.53 V772.30 H134.30 V773.10 H136.90 V773.52 H139.50 V773.95 H142.10 V774.38 H144.70 V774.80 H147.27 V775.40 H149.85 V776.00 H152.43 V776.60 H155.00 V777.20 H157.47 V777.57 H159.94 V777.94 H162.41 V778.31 H164.89 V778.69 H167.36 V779.06 H169.83 V779.43 H172.30 V779.80 H175.20 V780.37 H178.10 V780.93 H181.00 V781.50 H183.35 V781.66 H185.71 V781.83 H188.06 V781.99 H190.42 V782.15 H192.77 V782.32 H195.13 V782.48 H197.48 V782.65 H199.84 V782.81 H202.19 V782.97 H204.55 V783.14 H206.90 V783.30 H209.21 V783.39 H211.52 V783.48 H213.83 V783.57 H216.14 V783.66 H218.46 V783.74 H220.77 V783.83 H223.08 V783.92 H225.39 V784.01 H227.70 V784.10 H230.30 V784.70 H232.90 V785.30 H235.50 V785.85 H238.10 V786.40" fill="none" stroke="#8e88be" stroke-width="1.30"/>
<path d="M87.79,746.20V751.20M97.26,750.71V755.71M101.95,752.63V757.63M112.39,760.81V765.81M119.90,765.56V770.56M129.46,769.20V774.20M131.49,769.79V774.79M136.14,770.90V775.90M142.89,772.00V777.00M149.33,773.38V778.38M155.83,774.82V779.82M157.05,775.01V780.01M159.66,775.40V780.40M161.27,775.64V780.64M163.23,775.94V780.94M169.30,776.85V781.85M173.12,777.46V782.46M178.52,778.51V783.51M181.09,779.01V784.01M185.89,779.34V784.34M188.67,779.53V784.53M190.58,779.67V784.67M194.69,779.95V784.95M199.40,780.28V785.28M200.55,780.36V785.36M203.67,780.58V785.58M206.82,780.79V785.79M208.36,780.86V785.86M210.46,780.94V785.94M211.66,780.98V785.98M213.10,781.04V786.04M214.72,781.10V786.10M217.59,781.21V786.21M220.62,781.33V786.33M221.98,781.38V786.38M222.65,781.41V786.41M224.44,781.47V786.47M227.44,781.59V786.59M228.69,781.83V786.83M230.37,782.22V787.22M231.66,782.51V787.51M234.94,783.23V788.23M237.60,783.90V788.90" fill="none" stroke="#8e88be" stroke-width="0.95" opacity="0.9"/>
<path d="M78.20,741.50 H80.80 V748.60 H83.70 V750.50 H87.50 V756.30 H91.40 V761.10 H94.30 V764.90 H96.70 V768.30 H99.10 V771.70 H102.90 V778.40 H105.30 V780.80 H107.70 V783.20 H111.60 V786.10 H114.00 V787.55 H116.40 V789.00 H118.80 V790.40 H121.20 V791.80 H123.60 V793.75 H126.00 V795.70 H128.60 V796.37 H131.20 V797.03 H133.80 V797.70 H136.90 V800.75 H140.00 V803.80 H142.30 V805.00 H144.60 V806.20 H146.90 V806.58 H149.20 V806.95 H151.50 V807.33 H153.80 V807.70 H156.37 V808.20 H158.93 V808.70 H161.50 V809.20 H164.60 V810.00 H167.70 V810.80 H170.16 V811.24 H172.62 V811.68 H175.08 V812.12 H177.54 V812.56 H180.00 V813.00 H182.40 V813.12 H184.80 V813.25 H187.20 V813.38 H189.60 V813.50 H191.89 V813.52 H194.18 V813.54 H196.46 V813.55 H198.75 V813.57 H201.04 V813.59 H203.33 V813.61 H205.62 V813.62 H207.91 V813.64 H210.19 V813.66 H212.48 V813.68 H214.77 V813.69 H217.06 V813.71 H219.35 V813.73 H221.64 V813.75 H223.92 V813.76 H226.21 V813.78 H228.50 V813.80 H230.00 V816.30 H232.83 V816.30 H235.67 V816.30 H238.50 V816.30" fill="none" stroke="#c8307c" stroke-width="1.30"/>
<path d="M87.82,754.19V759.19M92.13,759.56V764.56M96.71,765.81V770.81M105.34,778.34V783.34M114.84,785.56V790.56M124.13,791.68V796.68M126.84,793.41V798.41M130.17,794.27V799.27M138.39,799.71V804.71M143.44,803.10V808.10M147.22,804.13V809.13M151.04,804.75V809.75M159.67,806.34V811.34M163.13,807.12V812.12M168.24,808.40V813.40M171.76,809.03V814.03M175.57,809.71V814.71M182.06,810.61V815.61M189.05,810.97V815.97M192.11,811.02V816.02M194.19,811.04V816.04M199.14,811.07V816.07M201.16,811.09V816.09M202.12,811.10V816.10M207.74,811.14V816.14M210.76,811.16V816.16M215.69,811.20V816.20M218.49,811.22V816.22M223.50,811.26V816.26M226.43,811.28V816.28M227.97,811.30V816.30M228.82,811.84V816.84M232.08,813.80V818.80M235.67,813.80V818.80M238.00,813.80V818.80" fill="none" stroke="#c8307c" stroke-width="0.95" opacity="0.9"/>
<path d="M78.20,741.50 H78.20 V746.00 H80.30 V747.60 H82.70 V747.60 H82.70 V750.00 H84.50 V750.00 H84.50 V753.40 H86.00 V753.40 H86.00 V759.00 H87.50 V759.00 H87.50 V765.00 H88.50 V765.00 H88.50 V770.00 H90.40 V770.00 H90.40 V774.00 H93.80 V774.00 H93.80 V784.20 H96.45 V784.20 H99.10 V784.20 H99.10 V785.50 H101.00 V785.50 H101.00 V792.00 H103.90 V792.00 H103.90 V798.60 H106.55 V798.60 H109.20 V798.60 H109.20 V801.50 H113.00 V801.50 H113.50 V810.00 H115.79 V810.00 H118.07 V810.00 H120.36 V810.00 H122.64 V810.00 H124.93 V810.00 H127.21 V810.00 H129.50 V810.00 H131.79 V810.00 H134.07 V810.00 H136.36 V810.00 H138.64 V810.00 H140.93 V810.00 H143.21 V810.00 H145.50 V810.00 H147.79 V810.00 H150.07 V810.00 H152.36 V810.00 H154.64 V810.00 H156.93 V810.00 H159.21 V810.00 H161.50 V810.00 H161.50 V813.60 H163.70 V813.60 H165.90 V813.60 H168.10 V813.60 H170.30 V813.60 H172.50 V813.60 H174.70 V813.60 H176.90 V813.60 H179.10 V813.60 H181.30 V813.60 H183.50 V813.60 H185.70 V813.60 H187.90 V813.60 H190.10 V813.60 H192.30 V813.60 H194.50 V813.60 H196.70 V813.60 H198.90 V813.60 H201.10 V813.60 H203.30 V813.60 H205.50 V813.60 H207.70 V813.60 H209.90 V813.60 H212.10 V813.60 H214.30 V813.60 H216.50 V813.60 H218.70 V813.60 H220.90 V813.60 H223.10 V813.60 H225.30 V813.60 H227.50 V813.60 H229.70 V813.60 H231.90 V813.60 H234.10 V813.60 H236.30 V813.60 H238.50 V813.60" fill="none" stroke="#a52a42" stroke-width="1.30"/>
<text x="64.40" y="900.90" font-size="10.20" text-anchor="end" fill="#1a1a1a" stroke="#1a1a1a" stroke-width="0.20" textLength="27.04" lengthAdjust="spacingAndGlyphs">At risk:</text>
<text x="64.40" y="911.90" font-size="10.20" text-anchor="end" fill="#1a1a1a" stroke="#1a1a1a" stroke-width="0.20" textLength="16.70" lengthAdjust="spacingAndGlyphs">Low:</text>
<text x="78.20" y="911.90" font-size="10.20" text-anchor="middle" fill="#47775d" textLength="9.41" lengthAdjust="spacingAndGlyphs">29</text>
<text x="131.40" y="911.90" font-size="10.20" text-anchor="middle" fill="#47775d" textLength="9.41" lengthAdjust="spacingAndGlyphs">24</text>
<text x="184.60" y="911.90" font-size="10.20" text-anchor="middle" fill="#47775d" textLength="9.41" lengthAdjust="spacingAndGlyphs">15</text>
<text x="237.80" y="911.90" font-size="10.20" text-anchor="middle" fill="#47775d" textLength="4.70" lengthAdjust="spacingAndGlyphs">5</text>
<text x="64.40" y="923.17" font-size="10.20" text-anchor="end" fill="#1a1a1a" stroke="#1a1a1a" stroke-width="0.20" textLength="54.39" lengthAdjust="spacingAndGlyphs">Intermediate:</text>
<text x="78.20" y="923.17" font-size="10.20" text-anchor="middle" fill="#8e88be" textLength="14.11" lengthAdjust="spacingAndGlyphs">298</text>
<text x="131.40" y="923.17" font-size="10.20" text-anchor="middle" fill="#8e88be" textLength="14.11" lengthAdjust="spacingAndGlyphs">199</text>
<text x="184.60" y="923.17" font-size="10.20" text-anchor="middle" fill="#8e88be" textLength="14.11" lengthAdjust="spacingAndGlyphs">115</text>
<text x="237.80" y="923.17" font-size="10.20" text-anchor="middle" fill="#8e88be" textLength="9.41" lengthAdjust="spacingAndGlyphs">59</text>
<text x="64.40" y="934.44" font-size="10.20" text-anchor="end" fill="#1a1a1a" stroke="#1a1a1a" stroke-width="0.20" textLength="21.41" lengthAdjust="spacingAndGlyphs">High:</text>
<text x="78.20" y="934.44" font-size="10.20" text-anchor="middle" fill="#c8307c" textLength="14.11" lengthAdjust="spacingAndGlyphs">144</text>
<text x="131.40" y="934.44" font-size="10.20" text-anchor="middle" fill="#c8307c" textLength="9.41" lengthAdjust="spacingAndGlyphs">61</text>
<text x="184.60" y="934.44" font-size="10.20" text-anchor="middle" fill="#c8307c" textLength="9.41" lengthAdjust="spacingAndGlyphs">30</text>
<text x="237.80" y="934.44" font-size="10.20" text-anchor="middle" fill="#c8307c" textLength="9.41" lengthAdjust="spacingAndGlyphs">21</text>
<text x="64.40" y="945.71" font-size="10.20" text-anchor="end" fill="#1a1a1a" stroke="#1a1a1a" stroke-width="0.20" textLength="40.90" lengthAdjust="spacingAndGlyphs">Very high:</text>
<text x="78.20" y="945.71" font-size="10.20" text-anchor="middle" fill="#a52a42" textLength="9.41" lengthAdjust="spacingAndGlyphs">39</text>
<text x="131.40" y="945.71" font-size="10.20" text-anchor="middle" fill="#a52a42" textLength="9.41" lengthAdjust="spacingAndGlyphs">12</text>
<text x="184.60" y="945.71" font-size="10.20" text-anchor="middle" fill="#a52a42" textLength="9.41" lengthAdjust="spacingAndGlyphs">11</text>
<text x="237.80" y="945.71" font-size="10.20" text-anchor="middle" fill="#a52a42" textLength="4.70" lengthAdjust="spacingAndGlyphs">5</text>
<line x1="336.70" y1="737.50" x2="336.70" y2="851.50" stroke="#111" stroke-width="1.35"/>
<line x1="336.02" y1="850.80" x2="509.60" y2="850.80" stroke="#111" stroke-width="1.40"/>
<line x1="331.70" y1="741.50" x2="336.70" y2="741.50" stroke="#333" stroke-width="1.60"/>
<text x="327.30" y="744.90" font-size="9.60" text-anchor="end" fill="#222" stroke="#222" stroke-width="0.15" textLength="23.37" lengthAdjust="spacingAndGlyphs">100 %</text>
<line x1="331.70" y1="767.75" x2="336.70" y2="767.75" stroke="#333" stroke-width="1.60"/>
<text x="327.30" y="771.15" font-size="9.60" text-anchor="end" fill="#222" stroke="#222" stroke-width="0.15" textLength="18.66" lengthAdjust="spacingAndGlyphs">75 %</text>
<line x1="331.70" y1="794.00" x2="336.70" y2="794.00" stroke="#333" stroke-width="1.60"/>
<text x="327.30" y="797.40" font-size="9.60" text-anchor="end" fill="#222" stroke="#222" stroke-width="0.15" textLength="18.66" lengthAdjust="spacingAndGlyphs">50 %</text>
<line x1="331.70" y1="820.25" x2="336.70" y2="820.25" stroke="#333" stroke-width="1.60"/>
<text x="327.30" y="823.65" font-size="9.60" text-anchor="end" fill="#222" stroke="#222" stroke-width="0.15" textLength="18.66" lengthAdjust="spacingAndGlyphs">25 %</text>
<line x1="331.70" y1="846.50" x2="336.70" y2="846.50" stroke="#333" stroke-width="1.60"/>
<text x="327.30" y="849.90" font-size="9.60" text-anchor="end" fill="#222" stroke="#222" stroke-width="0.15" textLength="13.96" lengthAdjust="spacingAndGlyphs">0 %</text>
<line x1="343.10" y1="850.80" x2="343.10" y2="856.00" stroke="#333" stroke-width="1.60"/>
<text x="343.10" y="868.90" font-size="9.80" text-anchor="middle" fill="#222" stroke="#222" stroke-width="0.15" textLength="4.95" lengthAdjust="spacingAndGlyphs">0</text>
<line x1="396.37" y1="850.80" x2="396.37" y2="856.00" stroke="#333" stroke-width="1.60"/>
<text x="396.37" y="868.90" font-size="9.80" text-anchor="middle" fill="#222" stroke="#222" stroke-width="0.15" textLength="4.95" lengthAdjust="spacingAndGlyphs">1</text>
<line x1="449.63" y1="850.80" x2="449.63" y2="856.00" stroke="#333" stroke-width="1.60"/>
<text x="449.63" y="868.90" font-size="9.80" text-anchor="middle" fill="#222" stroke="#222" stroke-width="0.15" textLength="4.95" lengthAdjust="spacingAndGlyphs">2</text>
<line x1="502.90" y1="850.80" x2="502.90" y2="856.00" stroke="#333" stroke-width="1.60"/>
<text x="502.90" y="868.90" font-size="9.80" text-anchor="middle" fill="#222" stroke="#222" stroke-width="0.15" textLength="4.95" lengthAdjust="spacingAndGlyphs">3</text>
<text x="390.70" y="885.20" font-size="12.80" text-anchor="start" fill="#1a1a1a" stroke="#1a1a1a" stroke-width="0.20" textLength="64.70" lengthAdjust="spacingAndGlyphs">Time (years)</text>
<text transform="translate(288.80,846.10) rotate(-90)" x="0" y="0" font-size="13.2" fill="#1a1a1a" stroke="#1a1a1a" stroke-width="0.3" textLength="103.50" lengthAdjust="spacingAndGlyphs">Survival probability</text>
<text transform="translate(278.90,742.60) scale(0.930,1)" x="0" y="0" font-size="17.10" fill="#1a1a1a">H</text>
<text x="341.10" y="808.80" font-size="7.40" text-anchor="start" fill="#333" stroke="#333" stroke-width="0.10" textLength="17.93" lengthAdjust="spacingAndGlyphs">EASIx</text>
<line x1="341.10" y1="815.50" x2="354.10" y2="815.50" stroke="#47775d" stroke-width="1.30"/>
<text x="359.00" y="817.90" font-size="7.10" text-anchor="start" fill="#333" stroke="#333" stroke-width="0.12" textLength="18.52" lengthAdjust="spacingAndGlyphs">&lt;0.89</text>
<line x1="341.10" y1="823.50" x2="354.10" y2="823.50" stroke="#8e88be" stroke-width="1.30"/>
<text x="359.00" y="826.60" font-size="7.10" text-anchor="start" fill="#333" stroke="#333" stroke-width="0.12" textLength="37.98" lengthAdjust="spacingAndGlyphs">0.89– &lt;1.40</text>
<line x1="341.10" y1="832.50" x2="354.10" y2="832.50" stroke="#c8307c" stroke-width="1.30"/>
<text x="359.00" y="835.50" font-size="7.10" text-anchor="start" fill="#333" stroke="#333" stroke-width="0.12" textLength="37.98" lengthAdjust="spacingAndGlyphs">1.40– &lt;3.76</text>
<line x1="341.10" y1="841.50" x2="354.10" y2="841.50" stroke="#a52a42" stroke-width="1.30"/>
<text x="359.00" y="844.30" font-size="7.10" text-anchor="start" fill="#333" stroke="#333" stroke-width="0.12" textLength="20.25" lengthAdjust="spacingAndGlyphs">&gt; 3.76</text>
<path d="M343.10,741.50 H347.40 V744.50 H349.70 V745.07 H352.00 V745.63 H354.30 V746.20 H357.20 V748.23 H360.10 V750.27 H363.00 V752.30 H365.87 V754.03 H368.73 V755.77 H371.60 V757.50 H374.50 V759.23 H377.40 V760.97 H380.30 V762.70 H383.17 V763.57 H386.03 V764.43 H388.90 V765.30 H391.80 V766.43 H394.70 V767.57 H397.60 V768.70 H400.47 V769.57 H403.33 V770.43 H406.20 V771.30 H408.50 V771.47 H410.80 V771.63 H413.10 V771.80 H415.40 V771.97 H417.70 V772.13 H420.00 V772.30 H422.30 V772.87 H424.60 V773.43 H426.90 V774.00 H429.13 V774.13 H431.36 V774.26 H433.59 V774.39 H435.81 V774.51 H438.04 V774.64 H440.27 V774.77 H442.50 V774.90 H445.10 V775.75 H447.70 V776.60 H450.01 V776.66 H452.31 V776.72 H454.62 V776.78 H456.93 V776.84 H459.23 V776.90 H461.54 V776.96 H463.85 V777.02 H466.15 V777.08 H468.46 V777.14 H470.77 V777.20 H473.07 V777.26 H475.38 V777.32 H477.69 V777.38 H479.99 V777.44 H482.30 V777.50 H484.90 V778.15 H487.50 V778.80 H490.10 V779.45 H492.70 V780.10 H495.30 V781.40 H497.90 V782.70 H500.50 V783.55 H503.10 V784.40" fill="none" stroke="#47775d" stroke-width="1.30"/>
<path d="M352.70,743.31V748.31M357.48,745.93V750.93M370.51,754.34V759.34M377.63,758.60V763.60M385.60,761.80V766.80M389.00,762.84V767.84M393.65,764.65V769.65M400.32,767.02V772.02M410.12,769.08V774.08M412.41,769.25V774.25M417.67,769.63V774.63M425.03,771.04V776.04M433.09,771.86V776.86M435.55,772.00V777.00M437.51,772.11V777.11M444.65,773.10V778.10M451.61,774.20V779.20M455.40,774.30V779.30M456.69,774.33V779.33M462.82,774.49V779.49M465.84,774.57V779.57M471.50,774.72V779.72M475.54,774.82V779.82M480.48,774.95V779.95M482.10,774.99V779.99M486.68,776.09V781.09M488.53,776.56V781.56M491.19,777.22V782.22M495.82,779.16V784.16M500.26,780.97V785.97M501.81,781.48V786.48M502.60,781.90V786.90" fill="none" stroke="#47775d" stroke-width="0.95" opacity="0.9"/>
<path d="M343.10,741.50 H347.40 V743.70 H349.70 V744.83 H352.00 V745.97 H354.30 V747.10 H357.20 V748.83 H360.10 V750.57 H363.00 V752.30 H365.87 V754.60 H368.73 V756.90 H371.60 V759.20 H374.50 V761.53 H377.40 V763.87 H380.30 V766.20 H383.17 V767.90 H386.03 V769.60 H388.90 V771.30 H391.80 V771.90 H394.70 V772.50 H397.60 V773.10 H400.47 V774.23 H403.33 V775.37 H406.20 V776.50 H409.10 V777.97 H412.00 V779.43 H414.90 V780.90 H417.45 V781.80 H420.00 V782.70 H422.90 V783.87 H425.80 V785.03 H428.70 V786.20 H431.57 V786.77 H434.43 V787.33 H437.30 V787.90 H439.77 V788.14 H442.24 V788.39 H444.71 V788.63 H447.19 V788.87 H449.66 V789.11 H452.13 V789.36 H454.60 V789.60 H456.92 V789.88 H459.23 V790.17 H461.55 V790.45 H463.87 V790.73 H466.18 V791.02 H468.50 V791.30 H471.90 V793.10 H474.37 V793.21 H476.84 V793.33 H479.31 V793.44 H481.79 V793.56 H484.26 V793.67 H486.73 V793.79 H489.20 V793.90 H491.80 V794.80 H494.40 V795.70 H497.30 V795.97 H500.20 V796.23 H503.10 V796.50" fill="none" stroke="#8e88be" stroke-width="1.30"/>
<path d="M352.70,743.81V748.81M363.07,749.85V754.85M373.28,758.05V763.05M380.27,763.67V768.67M383.65,765.69V770.69M388.22,768.40V773.40M397.42,770.56V775.56M407.27,774.54V779.54M409.07,775.45V780.45M415.08,778.46V783.46M422.26,781.11V786.11M423.80,781.73V786.73M431.02,784.16V789.16M433.00,784.55V789.55M438.12,785.48V790.48M442.72,785.93V790.93M447.65,786.42V791.42M450.51,786.70V791.70M453.96,787.04V792.04M458.26,787.55V792.55M461.58,787.95V792.95M466.08,788.50V793.50M469.34,789.24V794.24M472.49,790.63V795.63M473.50,790.67V795.67M477.48,790.86V795.86M480.73,791.01V796.01M482.70,791.10V796.10M487.16,791.31V796.31M491.58,792.22V797.22M494.45,793.20V798.20M496.03,793.35V798.35M498.90,793.61V798.61M500.13,793.73V798.73M501.44,793.85V798.85M502.60,794.00V799.00" fill="none" stroke="#8e88be" stroke-width="0.95" opacity="0.9"/>
<path d="M343.10,741.50 H345.70 V747.10 H348.25 V749.70 H350.80 V752.30 H353.40 V753.15 H356.00 V754.00 H358.33 V755.17 H360.67 V756.33 H363.00 V757.50 H365.87 V759.80 H368.73 V762.10 H371.60 V764.40 H374.20 V767.85 H376.80 V771.30 H379.40 V773.90 H382.00 V776.50 H384.30 V777.97 H386.60 V779.43 H388.90 V780.90 H391.80 V782.03 H394.70 V783.17 H397.60 V784.30 H400.47 V785.47 H403.33 V786.63 H406.20 V787.80 H408.50 V787.95 H410.80 V788.10 H413.10 V788.25 H415.40 V788.40 H417.70 V788.55 H420.00 V788.70 H422.90 V789.57 H425.80 V790.43 H428.70 V791.30 H431.57 V791.60 H434.43 V791.90 H437.30 V792.20 H440.20 V792.77 H443.10 V793.33 H446.00 V793.90 H449.40 V795.70 H452.00 V796.10 H454.60 V796.50 H456.80 V796.50 H459.01 V796.50 H461.21 V796.50 H463.42 V796.50 H465.62 V796.50 H467.83 V796.50 H470.03 V796.50 H472.24 V796.50 H474.44 V796.50 H476.65 V796.50 H478.85 V796.50 H481.05 V796.50 H483.26 V796.50 H485.46 V796.50 H487.67 V796.50 H489.87 V796.50 H492.08 V796.50 H494.28 V796.50 H496.49 V796.50 H498.69 V796.50 H500.90 V796.50 H503.10 V796.50" fill="none" stroke="#c8307c" stroke-width="1.30"/>
<path d="M352.70,750.42V755.42M357.52,752.26V757.26M367.60,758.69V763.69M376.96,768.96V773.96M379.53,771.53V776.53M388.80,778.34V783.34M391.42,779.39V784.39M400.36,782.92V787.92M408.84,785.47V790.47M414.44,785.84V790.84M416.23,785.95V790.95M421.40,786.62V791.62M425.43,787.82V792.82M433.34,789.29V794.29M435.40,789.50V794.50M442.09,790.64V795.64M449.31,793.15V798.15M454.62,794.00V799.00M460.21,794.00V799.00M462.23,794.00V799.00M468.44,794.00V799.00M471.88,794.00V799.00M477.61,794.00V799.00M482.94,794.00V799.00M484.56,794.00V799.00M489.09,794.00V799.00M494.15,794.00V799.00M495.23,794.00V799.00M497.56,794.00V799.00M501.64,794.00V799.00M502.60,794.00V799.00" fill="none" stroke="#c8307c" stroke-width="0.95" opacity="0.9"/>
<path d="M343.10,741.50 H345.70 V748.00 H349.10 V751.40 H351.70 V754.45 H354.30 V757.50 H356.60 V761.53 H358.90 V765.57 H361.20 V769.60 H363.53 V772.50 H365.87 V775.40 H368.20 V778.30 H370.50 V780.30 H372.80 V782.30 H375.10 V784.30 H377.97 V785.47 H380.83 V786.63 H383.70 V787.80 H386.03 V789.23 H388.37 V790.67 H390.70 V792.10 H393.57 V794.13 H396.43 V796.17 H399.30 V798.20 H401.90 V798.40 H404.50 V798.60 H407.10 V798.80 H409.70 V799.00 H412.57 V799.87 H415.43 V800.73 H418.30 V801.60 H420.00 V801.70 H422.60 V801.93 H425.20 V802.15 H427.80 V802.38 H430.40 V802.60 H432.70 V803.47 H435.00 V804.33 H437.30 V805.20 H439.56 V805.20 H441.82 V805.20 H444.08 V805.20 H446.35 V805.20 H448.61 V805.20 H450.87 V805.20 H453.13 V805.20 H455.39 V805.20 H457.65 V805.20 H459.92 V805.20 H462.18 V805.20 H464.44 V805.20 H466.70 V805.20 H468.96 V805.20 H471.22 V805.20 H473.48 V805.20 H475.75 V805.20 H478.01 V805.20 H480.27 V805.20 H482.53 V805.20 H484.79 V805.20 H487.05 V805.20 H489.32 V805.20 H491.58 V805.20 H493.84 V805.20 H496.10 V805.20 H499.60 V806.90 H503.10 V806.90" fill="none" stroke="#a52a42" stroke-width="1.30"/>
<path d="M352.70,753.12V758.12M372.00,779.11V784.11M377.74,782.88V787.88M389.34,788.77V793.77M392.57,790.92V795.92M399.14,795.59V800.59M409.01,796.45V801.45M412.14,797.24V802.24M415.61,798.29V803.29M420.83,799.27V804.27M424.45,799.59V804.59M425.96,799.72V804.72M428.46,799.93V804.93M430.77,800.24V805.24M438.25,802.70V807.70M443.68,802.70V807.70M450.20,802.70V807.70M452.21,802.70V807.70M457.72,802.70V807.70M459.33,802.70V807.70M463.19,802.70V807.70M467.52,802.70V807.70M470.30,802.70V807.70M475.66,802.70V807.70M479.27,802.70V807.70M482.93,802.70V807.70M487.94,802.70V807.70M489.24,802.70V807.70M494.58,802.70V807.70M498.16,803.70V808.70M500.65,804.40V809.40M502.60,804.40V809.40" fill="none" stroke="#a52a42" stroke-width="0.95" opacity="0.9"/>
<text x="329.40" y="900.50" font-size="10.20" text-anchor="end" fill="#1a1a1a" stroke="#1a1a1a" stroke-width="0.20" textLength="27.04" lengthAdjust="spacingAndGlyphs">At risk:</text>
<text x="329.40" y="911.90" font-size="10.20" text-anchor="end" fill="#1a1a1a" stroke="#1a1a1a" stroke-width="0.20" textLength="23.91" lengthAdjust="spacingAndGlyphs">&lt;0.89:</text>
<text x="343.10" y="911.90" font-size="10.20" text-anchor="middle" fill="#47775d" textLength="14.11" lengthAdjust="spacingAndGlyphs">132</text>
<text x="396.37" y="911.90" font-size="10.20" text-anchor="middle" fill="#47775d" textLength="9.41" lengthAdjust="spacingAndGlyphs">90</text>
<text x="449.63" y="911.90" font-size="10.20" text-anchor="middle" fill="#47775d" textLength="9.41" lengthAdjust="spacingAndGlyphs">57</text>
<text x="502.90" y="911.90" font-size="10.20" text-anchor="middle" fill="#47775d" textLength="9.41" lengthAdjust="spacingAndGlyphs">26</text>
<text x="329.40" y="923.20" font-size="10.20" text-anchor="end" fill="#1a1a1a" stroke="#1a1a1a" stroke-width="0.20" textLength="48.99" lengthAdjust="spacingAndGlyphs">0.89 – &lt;1.40:</text>
<text x="343.10" y="923.20" font-size="10.20" text-anchor="middle" fill="#8e88be" textLength="14.11" lengthAdjust="spacingAndGlyphs">129</text>
<text x="396.37" y="923.20" font-size="10.20" text-anchor="middle" fill="#8e88be" textLength="9.41" lengthAdjust="spacingAndGlyphs">85</text>
<text x="449.63" y="923.20" font-size="10.20" text-anchor="middle" fill="#8e88be" textLength="9.41" lengthAdjust="spacingAndGlyphs">43</text>
<text x="502.90" y="923.20" font-size="10.20" text-anchor="middle" fill="#8e88be" textLength="9.41" lengthAdjust="spacingAndGlyphs">22</text>
<text x="329.40" y="934.50" font-size="10.20" text-anchor="end" fill="#1a1a1a" stroke="#1a1a1a" stroke-width="0.20" textLength="48.99" lengthAdjust="spacingAndGlyphs">1.40 – &lt;3.76:</text>
<text x="343.10" y="934.50" font-size="10.20" text-anchor="middle" fill="#c8307c" textLength="14.11" lengthAdjust="spacingAndGlyphs">136</text>
<text x="396.37" y="934.50" font-size="10.20" text-anchor="middle" fill="#c8307c" textLength="9.41" lengthAdjust="spacingAndGlyphs">74</text>
<text x="449.63" y="934.50" font-size="10.20" text-anchor="middle" fill="#c8307c" textLength="9.41" lengthAdjust="spacingAndGlyphs">47</text>
<text x="502.90" y="934.50" font-size="10.20" text-anchor="middle" fill="#c8307c" textLength="9.41" lengthAdjust="spacingAndGlyphs">29</text>
<text x="329.40" y="945.80" font-size="10.20" text-anchor="end" fill="#1a1a1a" stroke="#1a1a1a" stroke-width="0.20" textLength="25.97" lengthAdjust="spacingAndGlyphs">≥ 3.76:</text>
<text x="343.10" y="945.80" font-size="10.20" text-anchor="middle" fill="#a52a42" textLength="14.11" lengthAdjust="spacingAndGlyphs">131</text>
<text x="396.37" y="945.80" font-size="10.20" text-anchor="middle" fill="#a52a42" textLength="9.41" lengthAdjust="spacingAndGlyphs">60</text>
<text x="449.63" y="945.80" font-size="10.20" text-anchor="middle" fill="#a52a42" textLength="9.41" lengthAdjust="spacingAndGlyphs">35</text>
<text x="502.90" y="945.80" font-size="10.20" text-anchor="middle" fill="#a52a42" textLength="9.41" lengthAdjust="spacingAndGlyphs">17</text>
<text x="341.3" y="316.5" font-size="8.0" fill="#222" stroke="#222" stroke-width="0.12" textLength="41.7" lengthAdjust="spacingAndGlyphs">Comorbidity</text>
<text x="383.0" y="316.5" font-size="6.3" fill="#444" textLength="17.4" lengthAdjust="spacingAndGlyphs">-EBMT</text>
<rect x="0" y="0" width="520" height="1" fill="#8a8a8a"/>
<rect x="0" y="0" width="1" height="959" fill="#8a8a8a"/>
<rect x="1" y="1" width="518" height="1" fill="#1c1c1c"/>
<rect x="1" y="1" width="1" height="957" fill="#1c1c1c"/>
<rect x="518" y="1" width="1" height="957" fill="#777"/>
<rect x="519" y="1" width="1" height="957" fill="#111"/>
<rect x="1" y="957" width="519" height="1" fill="#1c1c1c"/>
<rect x="0" y="958" width="520" height="1" fill="#8a8a8a"/>
</svg>
</body></html>
